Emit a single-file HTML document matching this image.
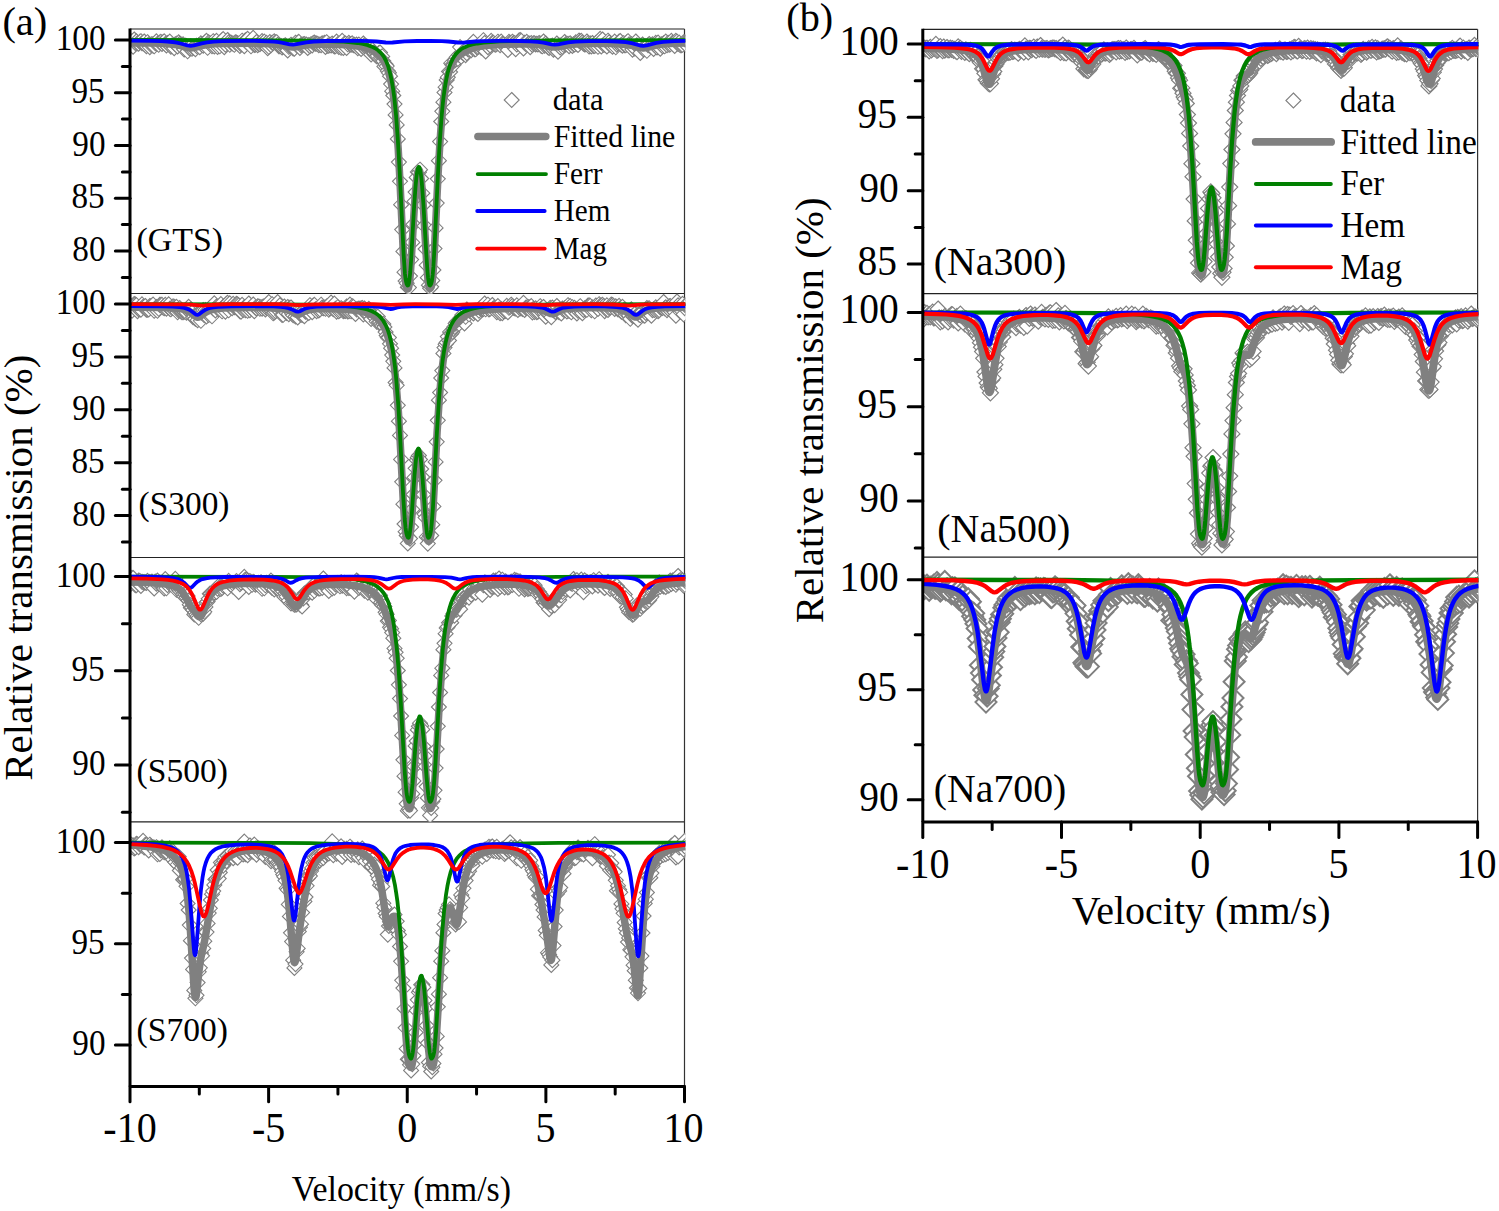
<!DOCTYPE html>
<html><head><meta charset="utf-8"><style>html,body{margin:0;padding:0;background:#fff;overflow:hidden}svg{display:block}text{font-family:"Liberation Serif",serif;fill:#000}</style></head><body>
<svg width="1499" height="1211" viewBox="0 0 1499 1211">
<rect width="1499" height="1211" fill="#fff"/>
<defs>
<marker id="ma1" markerUnits="userSpaceOnUse" markerWidth="19.2" markerHeight="19.2" viewBox="-9.6 -9.6 19.2 19.2" refX="0" refY="0"><path d="M0 -7.5L7.5 0 0 7.5-7.5 0Z" fill="#fff" stroke="#808080" stroke-width="1.1"/></marker>
<marker id="ma2" markerUnits="userSpaceOnUse" markerWidth="19.2" markerHeight="19.2" viewBox="-9.6 -9.6 19.2 19.2" refX="0" refY="0"><path d="M0 -7.5L7.5 0 0 7.5-7.5 0Z" fill="#fff" stroke="#808080" stroke-width="1.1"/></marker>
<marker id="ma3" markerUnits="userSpaceOnUse" markerWidth="19.2" markerHeight="19.2" viewBox="-9.6 -9.6 19.2 19.2" refX="0" refY="0"><path d="M0 -7.5L7.5 0 0 7.5-7.5 0Z" fill="#fff" stroke="#808080" stroke-width="1.1"/></marker>
<marker id="ma4" markerUnits="userSpaceOnUse" markerWidth="19.2" markerHeight="19.2" viewBox="-9.6 -9.6 19.2 19.2" refX="0" refY="0"><path d="M0 -7.5L7.5 0 0 7.5-7.5 0Z" fill="#fff" stroke="#808080" stroke-width="1.1"/></marker>
<marker id="mb1" markerUnits="userSpaceOnUse" markerWidth="20.4" markerHeight="20.4" viewBox="-10.2 -10.2 20.4 20.4" refX="0" refY="0"><path d="M0 -8L8 0 0 8-8 0Z" fill="#fff" stroke="#808080" stroke-width="1.2"/></marker>
<marker id="mb2" markerUnits="userSpaceOnUse" markerWidth="20.4" markerHeight="20.4" viewBox="-10.2 -10.2 20.4 20.4" refX="0" refY="0"><path d="M0 -8L8 0 0 8-8 0Z" fill="#fff" stroke="#808080" stroke-width="1.2"/></marker>
<marker id="mb3" markerUnits="userSpaceOnUse" markerWidth="27" markerHeight="27" viewBox="-13.5 -13.5 27 27" refX="0" refY="0"><path d="M0 -10.5L10.5 0 0 10.5-10.5 0Z" fill="#fff" stroke="#808080" stroke-width="2.0"/></marker>
<clipPath id="ca1"><rect x="130" y="29" width="555.3" height="264.5"/></clipPath>
<clipPath id="ca2"><rect x="130" y="293.5" width="555.3" height="264"/></clipPath>
<clipPath id="ca3"><rect x="130" y="557.5" width="555.3" height="264.3"/></clipPath>
<clipPath id="ca4"><rect x="130" y="821.8" width="555.3" height="264.6"/></clipPath>
<clipPath id="cb1"><rect x="922.8" y="29.3" width="555.6" height="264.3"/></clipPath>
<clipPath id="cb2"><rect x="922.8" y="293.6" width="555.6" height="263.6"/></clipPath>
<clipPath id="cb3"><rect x="922.8" y="557.2" width="555.6" height="264.8"/></clipPath>
</defs>
<line x1="130" y1="29" x2="684.5" y2="29" stroke="#222" stroke-width="1.2" stroke-linecap="butt"/>
<line x1="130" y1="293.5" x2="684.5" y2="293.5" stroke="#222" stroke-width="1.2" stroke-linecap="butt"/>
<line x1="130" y1="557.5" x2="684.5" y2="557.5" stroke="#222" stroke-width="1.2" stroke-linecap="butt"/>
<line x1="130" y1="821.8" x2="684.5" y2="821.8" stroke="#222" stroke-width="1.2" stroke-linecap="butt"/>
<line x1="684.5" y1="29" x2="684.5" y2="1086.4" stroke="#333" stroke-width="1.2" stroke-linecap="butt"/>
<line x1="922.8" y1="29.3" x2="1477.6" y2="29.3" stroke="#222" stroke-width="1.2" stroke-linecap="butt"/>
<line x1="922.8" y1="293.6" x2="1477.6" y2="293.6" stroke="#222" stroke-width="1.2" stroke-linecap="butt"/>
<line x1="922.8" y1="557.2" x2="1477.6" y2="557.2" stroke="#222" stroke-width="1.2" stroke-linecap="butt"/>
<line x1="1477.6" y1="29.3" x2="1477.6" y2="822" stroke="#333" stroke-width="1.2" stroke-linecap="butt"/>
<g clip-path="url(#ca1)">
<polyline fill="none" stroke="none" marker-start="url(#ma1)" marker-mid="url(#ma1)" marker-end="url(#ma1)" points="123.1,42.7 124.2,39.9 125.3,40.2 126.4,43.9 127.5,43.4 128.6,43.9 129.7,41.6 130.9,42.9 132,41.2 133.1,46.7 134.2,39.5 135.3,43 136.4,41.4 137.5,43.2 138.6,43.7 139.8,41.9 140.9,41.2 142,43.3 143.1,43.2 144.2,41.5 145.3,44.8 146.4,46.2 147.5,42.2 148.7,44.4 149.8,47.1 150.9,44.8 152,44.1 153.1,45.6 154.2,46.3 155.3,43.1 156.4,41.3 157.5,43.7 158.7,44.8 159.8,42.5 160.9,41.8 162,44 163.1,42.3 164.2,41.3 165.3,44 166.4,45.4 167.6,43 168.7,43.3 169.8,41.6 170.9,46.7 172,45.5 173.1,46 174.2,48.1 175.3,44.3 176.5,43.7 177.6,46.5 178.7,42.3 179.8,43.7 180.9,44.4 182,45.2 183.1,44.4 184.2,49.5 185.4,45.7 186.5,46.1 187.6,51.3 188.7,47.1 189.8,48.5 190.9,46.3 192,48.8 193.1,47.8 194.3,46.8 195.4,49.1 196.5,45.7 197.6,46.8 198.7,45.3 199.8,47.1 200.9,43.4 202,44.2 203.2,45.6 204.3,43.6 205.4,42.1 206.5,40.8 207.6,47.8 208.7,42.4 209.8,43.2 210.9,44.3 212,46.1 213.2,41.2 214.3,46.5 215.4,42.5 216.5,40.9 217.6,47 218.7,44.2 219.8,46.3 220.9,43 222.1,40.2 223.2,39.1 224.3,47.1 225.4,44.6 226.5,41.8 227.6,40 228.7,42.4 229.8,44.8 231,42.6 232.1,43.3 233.2,43.7 234.3,44.8 235.4,42.4 236.5,42.6 237.6,43.4 238.7,43.7 239.9,45.9 241,44.2 242.1,40.7 243.2,43.6 244.3,46.2 245.4,40.4 246.5,42.1 247.6,38.8 248.8,43.1 249.9,44.2 251,46.3 252.1,40.5 253.2,37.9 254.3,45 255.4,44.7 256.5,42.1 257.7,45.1 258.8,43.9 259.9,44.1 261,43 262.1,41.1 263.2,43.4 264.3,41.6 265.4,44.4 266.5,42.9 267.7,48.2 268.8,46.8 269.9,42.1 271,45.1 272.1,42.7 273.2,42.9 274.3,41.3 275.4,42.5 276.6,42.2 277.7,44.7 278.8,46.1 279.9,46.3 281,46 282.1,47.5 283.2,46.5 284.3,45.8 285.5,45.3 286.6,46.8 287.7,50.4 288.8,46.8 289.9,46.3 291,44.7 292.1,45.9 293.2,48.5 294.4,48.6 295.5,42.7 296.6,45.2 297.7,42.7 298.8,41.9 299.9,47.9 301,45.1 302.1,44.7 303.3,44.3 304.4,44.1 305.5,44.7 306.6,44.6 307.7,48 308.8,45 309.9,46.2 311,44.2 312.2,45.4 313.3,43 314.4,42.6 315.5,43.6 316.6,43.5 317.7,44 318.8,45.1 319.9,44.5 321.1,45.2 322.2,43.3 323.3,44.1 324.4,42.9 325.5,46.9 326.6,42.2 327.7,45.7 328.8,45.7 329.9,44.6 331.1,45.4 332.2,43.6 333.3,45.4 334.4,46.5 335.5,46.1 336.6,41.6 337.7,44.3 338.8,46.9 340,44.4 341.1,47.8 342.2,40.8 343.3,47.9 344.4,43.7 345.5,43.6 346.6,47.9 347.7,44.3 348.9,42.9 350,44.1 351.1,44.7 352.2,43.4 353.3,45.1 354.4,44.9 355.5,46 356.6,44.6 357.8,48.1 358.9,44.6 360,47.5 361.1,48.9 362.2,46.1 363.3,43.5 364.4,45.4 365.5,48.8 366.7,46.5 367.8,49.3 368.9,49 370,49 371.1,54.5 372.2,49.8 373.3,52.9 374.4,52.9 375.6,55.2 376.7,56.1 377.8,55.8 378.9,53.1 380,52.5 381.1,57.3 382.2,56.4 383.3,61 384.4,66.4 385.6,64.2 386.7,66.1 387.8,70.9 388.9,72.8 390,76.2 391.1,84.1 392.2,91.2 393.3,95.5 394.5,104.1 395.6,114.9 396.7,124.9 397.8,138.9 398.9,162.1 400,181.3 401.1,204.7 402.2,229.6 403.4,251.4 404.5,272.2 405.6,281 406.7,283.2 407.8,287.2 408.9,287.6 410,276.1 411.1,259.6 412.3,242.4 413.4,224.3 414.5,201.4 415.6,192.1 416.7,177.4 417.8,171.9 418.9,172.3 420,169.7 421.2,178.5 422.3,193.2 423.4,204.9 424.5,225.8 425.6,249 426.7,265.2 427.8,277.7 428.9,285.2 430.1,288.2 431.2,286.8 432.3,280.4 433.4,270 434.5,248.6 435.6,227.9 436.7,203.1 437.8,178.8 438.9,160.7 440.1,141.6 441.2,121.5 442.3,111.3 443.4,102.2 444.5,92.4 445.6,87.2 446.7,79.9 447.8,77.2 449,71.4 450.1,72 451.2,63.2 452.3,64.8 453.4,65.1 454.5,60.6 455.6,59.6 456.7,57.2 457.9,58.9 459,54.8 460.1,47.1 461.2,56.7 462.3,52.5 463.4,53.2 464.5,51.5 465.6,55.1 466.8,53.1 467.9,49.2 469,49.7 470.1,45.7 471.2,50.2 472.3,48 473.4,41.8 474.5,49.3 475.7,49.3 476.8,47.1 477.9,46.9 479,44.8 480.1,46.1 481.2,47.8 482.3,45.5 483.4,40.2 484.6,43 485.7,51.4 486.8,45.7 487.9,47.1 489,43.8 490.1,45.4 491.2,40.9 492.3,42.9 493.4,42.9 494.6,44.3 495.7,44.7 496.8,43.8 497.9,41.7 499,43.3 500.1,45.1 501.2,41.6 502.3,43.9 503.5,44.4 504.6,45.8 505.7,45.3 506.8,45.4 507.9,50 509,41.9 510.1,42.8 511.2,44.4 512.4,41.7 513.5,43 514.6,43.1 515.7,49.1 516.8,44.4 517.9,42.8 519,40.5 520.1,40 521.3,40.9 522.4,46.3 523.5,48.5 524.6,42.7 525.7,43.9 526.8,41.9 527.9,44.2 529,43.5 530.2,47.2 531.3,43.1 532.4,45 533.5,43.4 534.6,43.3 535.7,44.5 536.8,43.7 537.9,44.5 539.1,43 540.2,43.7 541.3,46 542.4,46.3 543.5,41.5 544.6,45.6 545.7,43.5 546.8,45 548,47.3 549.1,47.9 550.2,46.3 551.3,46.2 552.4,45.6 553.5,49.7 554.6,48.3 555.7,47.2 556.8,43.5 558,51.7 559.1,45.6 560.2,47.4 561.3,45.1 562.4,46.8 563.5,44.8 564.6,42 565.7,44.4 566.9,44 568,43.9 569.1,46.2 570.2,43.3 571.3,44.7 572.4,45.9 573.5,44.2 574.6,44.5 575.8,42.3 576.9,43.9 578,44.9 579.1,40.6 580.2,41.6 581.3,40.9 582.4,42.3 583.5,43.8 584.7,44.4 585.8,44.1 586.9,41.5 588,43.2 589.1,46.5 590.2,43.5 591.3,46.4 592.4,43 593.6,45.9 594.7,46 595.8,43.1 596.9,43.5 598,46.8 599.1,41.8 600.2,38.8 601.3,46.5 602.5,39.5 603.6,44.8 604.7,44.4 605.8,43.8 606.9,46.4 608,40.7 609.1,42.4 610.2,45 611.3,44.1 612.5,46.7 613.6,44.3 614.7,41.6 615.8,47.3 616.9,44.6 618,43.4 619.1,41.6 620.2,41 621.4,44.9 622.5,45.6 623.6,43.2 624.7,45.1 625.8,45.1 626.9,42.3 628,41.2 629.1,44.4 630.3,45.5 631.4,44.2 632.5,49.6 633.6,45.9 634.7,48.4 635.8,41.5 636.9,45.3 638,46.8 639.2,47.9 640.3,53 641.4,46.4 642.5,44.5 643.6,49.5 644.7,46.5 645.8,46.2 646.9,50.8 648.1,45.2 649.2,44 650.3,46.1 651.4,46.4 652.5,44.3 653.6,48.9 654.7,45.2 655.8,42.9 657,47.5 658.1,42.6 659.2,45.4 660.3,48.7 661.4,44.4 662.5,46.1 663.6,43.3 664.7,46.3 665.8,41.6 667,45.2 668.1,42.9 669.2,44.8 670.3,44.2 671.4,40.9 672.5,42.9 673.6,44.2 674.7,45.9 675.9,40.8 677,41.7 678.1,43.9 679.2,42.6 680.3,45.3 681.4,45.2 682.5,44.8 683.6,42.3 684.8,42.4 685.9,44.6 687,41.4 688.1,41.3 689.2,42.6 690.3,40.7 691.4,43.5"/>
<path d="M121.7 42.8L151.6 43.1 160.8 43.3 167.7 43.7 172.6 44.2 176.8 44.8 180.5 45.7 187.4 47.6 190.7 48 193.9 47.6 201.9 45.5 207.5 44.5 214.8 43.8 224.6 43.4 249.4 43.2 260.6 43.4 269.2 43.7 274.4 44.1 278.9 44.6 282.9 45.3 289.7 46.8 293.1 47.1 296.4 46.8 306.1 45 312.8 44.4 324.5 44.1 338.6 44.4 346.4 44.8 353.2 45.5 358.9 46.2 363.8 47.2 368 48.4 371.7 49.9 374.9 51.6 377.7 53.8 380.7 56.8 383.3 60.4 385.7 64.9 387.8 69.9 389.6 75.9 391.2 82.6 392.7 90.7 393.9 99.4 395.1 109.3 396.1 120.1 398.2 148.5 399.9 179.9 403.1 248.3 404.3 269.6 405 277.8 405.8 284.1 406.6 287.3 407.2 288.3 407.8 288.9 408.1 288.7 408.4 288.1 409.1 285.1 409.7 280.6 410.4 273.1 411.5 255.9 414.3 207.8 415.9 186.3 416.7 178.7 417.4 174 418 171.1 418.4 170.3 418.8 169.8 419.3 170.2 419.6 170.9 420.4 174.3 421.2 180.1 422.2 189.4 423.6 210.5 426.7 264 428.1 280.9 428.8 285.8 429.1 287.3 429.6 288.4 430 288.6 430.7 287.8 431.2 286.9 431.6 285.2 432.2 281.9 432.8 276.8 434 259.4 438 175.8 439.9 143.1 441.5 121.1 443.3 102.5 444.6 92.9 445.9 84.6 447.4 77.6 449.1 71.4 451 66.5 453 62.5 455.4 59 458.1 56.3 461.6 53.7 465.9 51.1 469.9 49.3 474.1 47.8 478.7 46.6 484.1 45.7 490.4 45 497.8 44.5 515.8 43.9 524.8 43.9 532.2 44.1 540.9 44.8 544.6 45.4 551.5 46.8 554.8 47 558.1 46.7 568.3 44.7 576.4 43.9 591.6 43.4 610.4 43.5 619.8 43.9 626.8 44.5 632.2 45.5 640 47.6 643.2 48 646.7 47.6 653.1 45.8 656.4 45 663.1 44 674.5 43.3 692.8 42.9" fill="none" stroke="#808080" stroke-width="7.5" stroke-linejoin="round"/>
<path d="M121.7 40L275.6 40.3 311 40.7 334.2 41.3 343.4 41.7 351.1 42.3 357.5 43 363 44 367.7 45.1 371.7 46.6 375.1 48.2 378.1 50.3 381.1 53.2 383.8 56.7 386.1 61 388.1 66.1 389.9 72.4 391.5 79.6 393 88.3 394.3 97.7 396.1 115.8 397.8 139 399.7 171.5 403.7 255.3 404.9 273.2 405.5 278.4 406.1 281.9 406.5 283.6 407 284.7 407.6 285.5 408.1 285.4 408.6 284.4 408.9 283.1 409.6 278.4 410.3 271.3 411.1 260.1 414 208.4 415.5 187.1 416.4 177.5 417.2 171.6 418 168 418.5 167 419 166.8 419.3 167.1 419.6 167.9 420.3 170.6 421 175.1 421.8 182.5 423.4 203.8 426.3 253.6 427.4 270.5 428.1 277.9 428.7 282.1 429.2 284.6 429.6 285.3 429.9 285.5 430.4 285.2 431.1 284.1 431.9 281 432.7 274.9 433.4 266.9 434.7 243.6 437.8 177.3 439.4 147.3 441.4 119.2 442.4 107.7 443.5 97.2 444.8 87.9 446.2 79.9 447.6 73.1 449.2 67.4 451.1 62.4 453.2 58 455.6 54.4 458.3 51.5 461.1 49.2 464.3 47.4 468.1 45.8 472.4 44.5 477.5 43.5 483.5 42.6 490.7 42 499.3 41.4 520.8 40.8 553.3 40.4 692.8 40.1" fill="none" stroke="#008000" stroke-width="3.8" stroke-linejoin="round"/>
<path d="M121.7 40.6L151.6 40.9 160.8 41.2 167.7 41.5 172.6 42 176.8 42.6 180.5 43.5 187.4 45.4 190.7 45.8 193.9 45.4 201.7 43.3 206.9 42.3 213.7 41.6 222.5 41.2 247.4 40.9 259.6 41 268.7 41.3 274.1 41.7 278.7 42.1 282.8 42.8 289.7 44.3 293.1 44.6 296.5 44.2 306.3 42.3 313.7 41.5 326.5 41 346.5 40.8 360.6 40.9 370.5 41.2 376.5 41.5 385.8 42.5 389.3 42.7 392.5 42.5 404.5 41.4 417.2 41 430.7 40.9 441.9 41.2 448.3 41.5 457.9 42.5 461.3 42.7 464.7 42.5 475.1 41.5 483.6 41.1 500.1 40.8 519.6 41 530.1 41.3 537.8 41.8 543.5 42.6 551.6 44.3 554.7 44.6 558.1 44.3 568.2 42.3 575.5 41.6 588.7 41.1 606.6 41.1 617.6 41.5 625.8 42.2 631.7 43.2 640.1 45.5 643.3 45.8 646.7 45.4 656.3 42.8 663.1 41.8 674.5 41.1 692.8 40.7" fill="none" stroke="#0000ff" stroke-width="3.8" stroke-linejoin="round"/>
</g>
<g clip-path="url(#ca2)">
<polyline fill="none" stroke="none" marker-start="url(#ma2)" marker-mid="url(#ma2)" marker-end="url(#ma2)" points="123.1,307.4 124.2,305.9 125.3,307.2 126.4,305.1 127.5,310.3 128.6,303.5 129.7,309.1 130.9,307.6 132,310.7 133.1,305.7 134.2,304 135.3,304.5 136.4,305.1 137.5,311.2 138.6,309.2 139.8,308.4 140.9,309.6 142,304.4 143.1,306.8 144.2,307.3 145.3,306 146.4,309.7 147.5,309.6 148.7,309.5 149.8,306 150.9,306.4 152,305.9 153.1,304.6 154.2,310.8 155.3,308.8 156.4,307 157.5,310.8 158.7,308.8 159.8,304.9 160.9,304.7 162,304.8 163.1,307.4 164.2,308.1 165.3,304.8 166.4,308.6 167.6,306.8 168.7,304.3 169.8,308.7 170.9,309.3 172,307.9 173.1,306.4 174.2,306.8 175.3,307.7 176.5,306.8 177.6,312.3 178.7,310.6 179.8,308.1 180.9,311.1 182,312.3 183.1,312.2 184.2,311.7 185.4,310.2 186.5,312.7 187.6,309.9 188.7,306.8 189.8,312.1 190.9,309.3 192,312.7 193.1,317.2 194.3,316.1 195.4,318.8 196.5,315 197.6,320.2 198.7,313.7 199.8,315 200.9,320.8 202,312.8 203.2,310 204.3,315.2 205.4,310 206.5,316.4 207.6,310.6 208.7,315 209.8,309.1 210.9,314.5 212,316.3 213.2,308.4 214.3,303.3 215.4,310.4 216.5,306.6 217.6,308.3 218.7,309.3 219.8,306.8 220.9,304.1 222.1,311.3 223.2,306.7 224.3,307.2 225.4,311.6 226.5,303.8 227.6,302.9 228.7,310.3 229.8,303.4 231,307.6 232.1,308.2 233.2,303.9 234.3,307.1 235.4,306.9 236.5,303.8 237.6,304.4 238.7,305.4 239.9,311.2 241,311.6 242.1,304.8 243.2,310 244.3,307.2 245.4,310.3 246.5,308.1 247.6,310.8 248.8,303.5 249.9,310.2 251,307.9 252.1,308.1 253.2,304.5 254.3,311.2 255.4,307.7 256.5,308.2 257.7,306.3 258.8,306.5 259.9,308.8 261,307.1 262.1,308.7 263.2,306.5 264.3,308 265.4,309.4 266.5,307.9 267.7,306.9 268.8,302.1 269.9,309.1 271,307.1 272.1,304.2 273.2,313.3 274.3,312.5 275.4,311.1 276.6,308.5 277.7,302.1 278.8,307.4 279.9,305.4 281,309.1 282.1,315 283.2,314.8 284.3,306.5 285.5,308.8 286.6,312.9 287.7,307 288.8,314.2 289.9,307.8 291,307.5 292.1,313.8 293.2,315.3 294.4,311 295.5,316.5 296.6,312 297.7,317.4 298.8,312.2 299.9,313.6 301,314.4 302.1,314.9 303.3,311.4 304.4,316.2 305.5,311.6 306.6,311.5 307.7,308.4 308.8,313 309.9,305.2 311,310.2 312.2,312.1 313.3,305.6 314.4,304.8 315.5,309.4 316.6,311.1 317.7,308.7 318.8,310.5 319.9,309.5 321.1,304.7 322.2,307.6 323.3,308.3 324.4,307.7 325.5,308.8 326.6,306.5 327.7,306.4 328.8,309.6 329.9,308.4 331.1,302.6 332.2,307.6 333.3,309.2 334.4,303.6 335.5,308.8 336.6,311.6 337.7,307.2 338.8,311.2 340,310.3 341.1,308.2 342.2,309.5 343.3,311.1 344.4,310.7 345.5,310.9 346.6,306.5 347.7,311.4 348.9,311.1 350,304.6 351.1,311.3 352.2,306.2 353.3,306.8 354.4,310.6 355.5,314 356.6,309.4 357.8,309 358.9,308.5 360,310.9 361.1,308.3 362.2,308 363.3,314.5 364.4,308.5 365.5,312 366.7,314.2 367.8,313.9 368.9,308.8 370,311.5 371.1,319 372.2,314.8 373.3,316 374.4,316.7 375.6,318.3 376.7,321.6 377.8,316.6 378.9,322.3 380,322 381.1,324 382.2,325.9 383.3,324 384.4,327 385.6,332.1 386.7,335.6 387.8,337.6 388.9,337.6 390,343.8 391.1,348.2 392.2,355.1 393.3,361.3 394.5,367.9 395.6,382.6 396.7,385.3 397.8,405.3 398.9,421.2 400,435.4 401.1,459.4 402.2,481.8 403.4,504.2 404.5,524 405.6,531.7 406.7,535.5 407.8,543.4 408.9,537.5 410,538.6 411.1,527.1 412.3,509.4 413.4,494.5 414.5,477.4 415.6,468.3 416.7,460 417.8,457.4 418.9,455.5 420,459.5 421.2,469 422.3,477 423.4,494.6 424.5,514.1 425.6,517.6 426.7,536.9 427.8,543.6 428.9,537.8 430.1,535.6 431.2,535.5 432.3,524.7 433.4,506.4 434.5,480.3 435.6,461.9 436.7,441.8 437.8,420.3 438.9,400.2 440.1,392.5 441.2,378 442.3,370.6 443.4,353.4 444.5,347.6 445.6,344.3 446.7,342.4 447.8,336.6 449,340.5 450.1,331.9 451.2,333.8 452.3,332 453.4,329 454.5,326.8 455.6,323.4 456.7,321.9 457.9,321.9 459,323.8 460.1,318.6 461.2,319.5 462.3,315.1 463.4,319.5 464.5,323.4 465.6,316.8 466.8,309.5 467.9,313.2 469,314.3 470.1,311.1 471.2,311.7 472.3,311.4 473.4,313.5 474.5,311.7 475.7,311.1 476.8,313 477.9,314 479,310.6 480.1,308.3 481.2,308.9 482.3,309.1 483.4,308.9 484.6,303.5 485.7,309.3 486.8,307.2 487.9,304.7 489,309.4 490.1,308.8 491.2,306.7 492.3,305 493.4,308.4 494.6,308.2 495.7,308.8 496.8,312.1 497.9,306.1 499,309.5 500.1,313.2 501.2,309.1 502.3,313.1 503.5,311.2 504.6,308.6 505.7,310.9 506.8,305.8 507.9,312.2 509,307.8 510.1,307 511.2,304.7 512.4,306 513.5,307.8 514.6,308.1 515.7,308.5 516.8,305.4 517.9,310 519,307 520.1,308.5 521.3,307.7 522.4,309 523.5,302.9 524.6,310 525.7,307.7 526.8,307.7 527.9,306.9 529,307.3 530.2,307.4 531.3,306.1 532.4,312.5 533.5,308.7 534.6,312 535.7,308.4 536.8,312.1 537.9,311.7 539.1,309.6 540.2,306.2 541.3,308.5 542.4,309.5 543.5,307 544.6,313.4 545.7,316.7 546.8,312.9 548,313.1 549.1,309.7 550.2,307.9 551.3,317.1 552.4,307.6 553.5,309.8 554.6,311.3 555.7,311.9 556.8,306 558,311.3 559.1,312.2 560.2,310.1 561.3,313.5 562.4,308.5 563.5,309.6 564.6,308.3 565.7,308 566.9,311.4 568,305.2 569.1,311 570.2,306.1 571.3,312.3 572.4,307.2 573.5,310.2 574.6,307.9 575.8,309.6 576.9,313.5 578,310.7 579.1,307.7 580.2,306.2 581.3,311.5 582.4,313.2 583.5,310 584.7,308.3 585.8,309.3 586.9,309.8 588,305.6 589.1,305.3 590.2,305.8 591.3,310.1 592.4,307.5 593.6,308.2 594.7,311.3 595.8,305.5 596.9,307.5 598,309 599.1,304.2 600.2,305.8 601.3,305.6 602.5,304.8 603.6,306 604.7,311.1 605.8,308.9 606.9,305.4 608,310 609.1,308 610.2,307.1 611.3,304.6 612.5,305 613.6,306.1 614.7,309 615.8,306.4 616.9,307.5 618,309.4 619.1,305.8 620.2,308.2 621.4,311.7 622.5,306.9 623.6,311.1 624.7,309.4 625.8,315.3 626.9,312 628,315 629.1,315.7 630.3,318.8 631.4,309.4 632.5,316 633.6,315.8 634.7,314.1 635.8,317.4 636.9,315.5 638,319.6 639.2,314.7 640.3,315.3 641.4,312 642.5,311.9 643.6,315.1 644.7,315.7 645.8,313 646.9,308.1 648.1,308.6 649.2,308.3 650.3,314.2 651.4,315.7 652.5,310.2 653.6,309.3 654.7,309.9 655.8,307.3 657,308.6 658.1,311.1 659.2,310.2 660.3,307.5 661.4,307.7 662.5,308 663.6,302 664.7,308.3 665.8,307.3 667,310.1 668.1,308.5 669.2,306.2 670.3,306.1 671.4,307.9 672.5,306.5 673.6,307.3 674.7,312.2 675.9,315.7 677,301.5 678.1,305.3 679.2,307.5 680.3,311.8 681.4,310.6 682.5,303.9 683.6,314.4 684.8,308.1 685.9,305.1 687,306.9 688.1,305.3 689.2,307.6 690.3,301.2 691.4,309.8"/>
<path d="M121.7 307.1L162.4 307.5 172.6 307.9 179.6 308.5 184.4 309.4 188.1 310.8 191 312.6 195.6 316.5 196.6 317 197.7 317.2 198.6 317.1 199.5 316.7 205.4 312.4 207.6 311.2 209.9 310.3 212.5 309.5 215.6 308.9 223.6 308.1 235.5 307.7 253 307.6 268.6 307.8 278.7 308.4 283.8 309 287.8 309.9 291 311.2 295.8 313.9 296.8 314.3 297.7 314.4 298.8 314.3 299.8 313.9 303.9 311.6 306.3 310.6 308.9 309.8 311.9 309.3 316.4 308.8 322.1 308.6 329.4 308.7 337.4 308.9 345.2 309.3 351.9 309.9 357.7 310.7 362.6 311.7 366.9 312.8 370.6 314.2 373.9 316 376.8 318 379.8 320.8 382.4 324.4 384.7 328.5 386.9 333.7 389 340.5 391 348.1 392.6 356 394.1 365.4 395.2 374.5 396.3 385.6 398.4 411.8 400.1 440.4 403.3 501.9 404.7 522.8 405.5 531.3 406.3 536.8 407.2 540 407.9 541.2 408.3 541.5 408.7 541.3 409 540.7 409.6 538.5 410.7 529.7 411.9 515.9 414.5 478.8 415.9 463.7 417.1 455 417.8 452.6 418.4 452 418.7 452.1 419.1 452.7 419.8 455.2 420.4 459.4 421.2 466.2 422.6 482.3 425.5 522.3 426.8 535.8 427.5 539.5 427.9 540.6 428.3 541.2 428.8 541.1 429.2 540.5 429.8 539.3 430.3 537.8 431 534.1 431.6 528.3 432.9 512 437.1 432.4 439.2 400.1 441.1 377.5 442.2 368.2 443.3 359.6 444.8 350.8 446.4 343.5 448.1 337.6 450 332.7 451.8 329.5 453.7 326.9 460.8 319.6 463.2 317.4 465.6 315.6 468.1 314.2 470.9 313 474.1 312 477.9 311.1 482.1 310.4 492.8 309.3 503 308.7 514.7 308.4 525.1 308.4 532.9 308.7 537.7 309.3 541.8 310.1 545.5 311.4 550.6 313.6 552.5 313.9 553.5 313.8 554.7 313.4 558.7 311.2 561 310.2 563.4 309.4 566.1 308.9 570.1 308.4 575.4 308 590.7 307.7 600.7 307.8 608.6 308.1 614.6 308.6 619.1 309.3 622.7 310.2 626 311.5 629.1 313.2 633.8 316.5 634.8 317 635.8 317.1 636.7 316.9 637.7 316.4 642.2 312.6 644.8 310.9 647.9 309.7 651.8 308.8 657.4 308.1 665.1 307.7 692.8 307.2" fill="none" stroke="#808080" stroke-width="7.5" stroke-linejoin="round"/>
<path d="M121.7 304.1L274.3 304.4 309.9 304.7 333.4 305.4 342.8 305.9 350.5 306.5 357 307.3 362.6 308.3 367.3 309.5 371.4 311 375 312.8 378.1 315 381 317.8 383.5 321.2 385.8 325.3 387.8 329.9 389.6 335.7 391.2 342.3 392.7 350.1 393.9 358.4 395.1 367.6 396.2 378.8 398.3 405.2 400 433.8 403.3 497.7 404.7 518.8 405.5 527.4 406.3 532.9 407.2 536.2 407.9 537.5 408.3 537.8 408.7 537.6 409 537 409.6 534.8 410.7 526.1 411.9 512.4 414.5 475.3 415.9 460.2 417.1 451.6 417.8 449.2 418.4 448.5 418.7 448.7 419.1 449.3 419.8 451.8 420.4 456 421.2 462.8 422.6 478.9 425.5 518.9 426.8 532.3 427.5 536 427.9 537.1 428.3 537.8 428.8 537.7 429.5 536.6 430.4 533.8 431.1 529.8 431.6 524.8 432.9 508.5 437 430.8 439 399.5 440.7 378.3 442.6 360.6 444 351.2 445.5 343.1 447.1 336.4 448.9 330.4 450.8 325.7 453.1 321.5 455.7 317.9 458.7 315 461.7 312.9 465.1 311.1 469.1 309.6 473.7 308.4 478.9 307.4 485.2 306.6 492.5 306 501.3 305.5 523.4 304.8 556.2 304.4 692.8 304.1" fill="none" stroke="#008000" stroke-width="3.8" stroke-linejoin="round"/>
<path d="M121.7 306L162.8 306.3 172.9 306.6 179.7 307.1 184.4 307.9 188.1 309.1 190.9 310.7 195.5 314.2 196.5 314.7 197.4 314.8 198.3 314.7 199.4 314.1 203.3 311.1 205.4 309.7 207.6 308.7 210 308 213.5 307.3 218 306.9 231.6 306.3 263.2 306.2 273.6 306.4 280.7 306.8 285.2 307.3 288.6 308.1 291.3 309.1 295.8 311.3 297.7 311.7 298.8 311.6 299.8 311.2 303.6 309.3 305.6 308.5 309.7 307.4 316.7 306.6 327.9 306.3 355.6 306.1 373.8 306.4 381.5 307.1 384.2 307.6 388.7 308.7 390.6 309 392.5 308.8 397.4 307.5 400.9 306.9 405.7 306.5 412.6 306.3 430.3 306.2 442.6 306.6 448.7 307.2 455.2 308.7 457.1 309 459.1 308.7 463.6 307.6 466.5 307 470.1 306.7 474.8 306.4 497.2 306.1 525.8 306.3 535.3 306.8 541.4 307.5 545.1 308.5 550.8 311.3 551.8 311.6 552.9 311.7 554.8 311.3 559 309.2 561.5 308.2 564.5 307.5 568.2 307 573.9 306.6 581.8 306.4 604.5 306.4 616.5 307 620.6 307.5 623.8 308.1 626.1 308.9 628 309.8 630.1 311.1 634 314.2 635 314.7 636 314.8 636.9 314.7 638 314.2 642.2 310.9 644.8 309.3 647.9 308.2 651.7 307.4 657.2 306.8 664.7 306.4 692.8 306.1" fill="none" stroke="#0000ff" stroke-width="3.8" stroke-linejoin="round"/>
<path d="M121.7 304L180.7 304.3 190.5 304.6 202.9 305.6 216.7 304.5 230.6 304.2 276.3 304.2 285.5 304.4 297.7 305.1 315.6 304.3 345.7 304.1 373.3 304.2 390.6 304.9 403.7 304.4 415.1 304.2 438.8 304.3 455.7 304.9 467.6 304.4 475.9 304.2 515 304.1 531.4 304.4 545.9 305.1 557.3 304.5 564.4 304.3 595.8 304.2 614 304.5 629.2 305.6 640.8 304.7 649.1 304.3 692.8 304" fill="none" stroke="#ff0000" stroke-width="3.8" stroke-linejoin="round"/>
</g>
<g clip-path="url(#ca3)">
<polyline fill="none" stroke="none" marker-start="url(#ma3)" marker-mid="url(#ma3)" marker-end="url(#ma3)" points="123.1,585.4 124.2,581.1 125.3,578.1 126.4,582 127.5,579.1 128.6,583.3 129.7,585.1 130.9,578.3 132,577.9 133.1,578 134.2,583.2 135.3,585.1 136.4,585.2 137.5,582.7 138.6,580.6 139.8,580.8 140.9,586 142,581.7 143.1,582.2 144.2,582.1 145.3,582.4 146.4,582.9 147.5,580.9 148.7,582.2 149.8,582 150.9,584.4 152,581.6 153.1,583.1 154.2,588.4 155.3,581.6 156.4,583.7 157.5,580.6 158.7,583.6 159.8,583.5 160.9,582.8 162,583.5 163.1,584.8 164.2,588.5 165.3,579.1 166.4,588.3 167.6,585.2 168.7,582.8 169.8,583.8 170.9,583.6 172,583.3 173.1,582.4 174.2,585.3 175.3,578.9 176.5,589.8 177.6,587.1 178.7,589.4 179.8,590.8 180.9,589.6 182,587.7 183.1,594.8 184.2,596.5 185.4,594.7 186.5,597.3 187.6,595.9 188.7,600.6 189.8,604.7 190.9,607.8 192,607.7 193.1,610 194.3,614.5 195.4,612.4 196.5,614.5 197.6,616.2 198.7,617.8 199.8,612.4 200.9,614.3 202,612 203.2,613.6 204.3,611.8 205.4,606.9 206.5,602.6 207.6,601.6 208.7,598.8 209.8,593.7 210.9,593.7 212,595.6 213.2,592.9 214.3,592.4 215.4,589.2 216.5,592 217.6,588.7 218.7,585.8 219.8,587 220.9,589 222.1,587.9 223.2,585.6 224.3,584.3 225.4,583.1 226.5,585.4 227.6,588.3 228.7,580.9 229.8,583.7 231,583.3 232.1,583.4 233.2,586.8 234.3,584.8 235.4,583.2 236.5,581.1 237.6,583.6 238.7,591.9 239.9,584.2 241,582.6 242.1,580.1 243.2,581.6 244.3,576.9 245.4,579.6 246.5,579.8 247.6,580.9 248.8,587 249.9,581.1 251,581.8 252.1,584.8 253.2,581.8 254.3,582.3 255.4,584.7 256.5,583.8 257.7,584.2 258.8,582.9 259.9,584.7 261,582.2 262.1,588.8 263.2,584.5 264.3,588.3 265.4,585.3 266.5,582.8 267.7,584.2 268.8,584.7 269.9,584.4 271,580.6 272.1,587.9 273.2,582.9 274.3,589.5 275.4,587.1 276.6,585.8 277.7,588.9 278.8,586.7 279.9,585.9 281,591.7 282.1,589.6 283.2,591.4 284.3,596.7 285.5,593.5 286.6,596.7 287.7,592.9 288.8,600.7 289.9,595.8 291,603.5 292.1,598.5 293.2,603.5 294.4,604.8 295.5,604.5 296.6,604.4 297.7,602.6 298.8,600.6 299.9,604.4 301,604.8 302.1,606.5 303.3,598.5 304.4,593.6 305.5,593 306.6,592.3 307.7,592.3 308.8,592 309.9,590.1 311,587.6 312.2,592.6 313.3,585.5 314.4,590.8 315.5,587 316.6,587.9 317.7,586.9 318.8,588.4 319.9,588.5 321.1,585.9 322.2,588 323.3,578.5 324.4,585.9 325.5,586.5 326.6,586.1 327.7,587.4 328.8,591 329.9,585.1 331.1,583.6 332.2,588.4 333.3,584.4 334.4,587.6 335.5,584.5 336.6,583.4 337.7,583.1 338.8,583.3 340,586.3 341.1,582.2 342.2,585.7 343.3,583.7 344.4,582.8 345.5,585.5 346.6,588.2 347.7,583.3 348.9,588 350,587.5 351.1,588.1 352.2,583.1 353.3,585.9 354.4,591.6 355.5,583.9 356.6,580.5 357.8,581.5 358.9,587.9 360,586.5 361.1,585.6 362.2,584.9 363.3,587.5 364.4,590.8 365.5,586.3 366.7,587.1 367.8,592.7 368.9,590.7 370,589.6 371.1,590.9 372.2,590.3 373.3,590.4 374.4,592 375.6,594.7 376.7,599.2 377.8,595.4 378.9,594.9 380,595.2 381.1,602.6 382.2,604.9 383.3,603.6 384.4,606.4 385.6,612.3 386.7,614.3 387.8,621.1 388.9,620.5 390,627.3 391.1,628.8 392.2,632.6 393.3,638.2 394.5,648.4 395.6,652.3 396.7,658.3 397.8,670.5 398.9,684.8 400,698.6 401.1,716 402.2,735.4 403.4,759.8 404.5,776.2 405.6,792.2 406.7,803.8 407.8,810.7 408.9,809 410,810.6 411.1,797.7 412.3,793.9 413.4,780.9 414.5,766.4 415.6,745.9 416.7,741 417.8,729.9 418.9,726.2 420,723.2 421.2,725.7 422.3,729.4 423.4,746.3 424.5,755.9 425.6,766.4 426.7,786.6 427.8,797.9 428.9,807.8 430.1,815.4 431.2,808 432.3,801.6 433.4,798.9 434.5,790.3 435.6,768.1 436.7,749 437.8,726.3 438.9,707 440.1,692.5 441.2,675.4 442.3,668.2 443.4,649.7 444.5,643.3 445.6,633.7 446.7,627.9 447.8,626.8 449,622.8 450.1,621.8 451.2,622.7 452.3,615.9 453.4,613.7 454.5,615.6 455.6,609.5 456.7,609.6 457.9,607 459,608.5 460.1,609.2 461.2,600.6 462.3,599.1 463.4,599.2 464.5,598.3 465.6,596.5 466.8,594.8 467.9,594.6 469,597.6 470.1,589.4 471.2,594.6 472.3,590.9 473.4,590.2 474.5,588.2 475.7,592.7 476.8,584.8 477.9,585.9 479,585.2 480.1,583.6 481.2,588.8 482.3,594.7 483.4,585.3 484.6,582.5 485.7,582.7 486.8,587 487.9,585.7 489,584.5 490.1,589.9 491.2,586.8 492.3,586.6 493.4,580.6 494.6,586.4 495.7,580.5 496.8,584.5 497.9,588.9 499,578.5 500.1,586.9 501.2,582.7 502.3,579.7 503.5,585.6 504.6,587.4 505.7,581.4 506.8,584 507.9,587.4 509,587 510.1,585.2 511.2,581.6 512.4,584.9 513.5,582.5 514.6,579.9 515.7,580.9 516.8,580.6 517.9,581.2 519,588.8 520.1,581.4 521.3,583.9 522.4,585.2 523.5,587.9 524.6,589.4 525.7,588.3 526.8,585.7 527.9,589 529,588.4 530.2,588.2 531.3,585.2 532.4,588.3 533.5,588.4 534.6,585.2 535.7,590.4 536.8,588.9 537.9,594.3 539.1,592 540.2,594 541.3,595.5 542.4,599.1 543.5,602.5 544.6,602.6 545.7,604.8 546.8,602.3 548,603.5 549.1,609.2 550.2,603.9 551.3,606 552.4,602.4 553.5,603.7 554.6,605.1 555.7,597.2 556.8,597.2 558,600 559.1,600.1 560.2,595 561.3,595.3 562.4,591.8 563.5,588.2 564.6,585 565.7,589.1 566.9,583.8 568,583.9 569.1,587.6 570.2,590.5 571.3,583.5 572.4,583.8 573.5,579 574.6,581.2 575.8,582.7 576.9,580.2 578,587.3 579.1,583.9 580.2,585 581.3,579.6 582.4,582.6 583.5,592.1 584.7,580.4 585.8,586.3 586.9,581.9 588,585.2 589.1,583.2 590.2,582.2 591.3,583.4 592.4,586.4 593.6,580.2 594.7,582.9 595.8,584.1 596.9,582.2 598,585.6 599.1,579.2 600.2,583.7 601.3,583.5 602.5,583.6 603.6,587.1 604.7,588 605.8,584.5 606.9,584.3 608,581.9 609.1,584.6 610.2,589 611.3,585 612.5,584.7 613.6,584.7 614.7,587 615.8,591.7 616.9,586.1 618,592 619.1,589.5 620.2,596.4 621.4,591.5 622.5,597.2 623.6,594.1 624.7,594.5 625.8,598.4 626.9,607.3 628,609.5 629.1,612.2 630.3,610.6 631.4,613.3 632.5,614.7 633.6,614.2 634.7,612.3 635.8,610.3 636.9,605.4 638,607.7 639.2,605 640.3,608.8 641.4,606.2 642.5,603.7 643.6,604.6 644.7,600.7 645.8,598.4 646.9,601.9 648.1,601.3 649.2,600 650.3,596.7 651.4,596.8 652.5,592.5 653.6,591.3 654.7,589.8 655.8,587.6 657,588.6 658.1,587.5 659.2,582.5 660.3,586.7 661.4,584 662.5,585.5 663.6,586.5 664.7,586.2 665.8,586.9 667,584.4 668.1,585.8 669.2,585.1 670.3,580.6 671.4,584 672.5,580.5 673.6,582.7 674.7,581 675.9,584.8 677,582.7 678.1,576 679.2,580.7 680.3,580.2 681.4,582.2 682.5,580.4 683.6,585.7 684.8,584.8 685.9,581.4 687,580.3 688.1,583.5 689.2,582.9 690.3,583.3 691.4,582.8"/>
<path d="M121.7 581.8L144.2 582.3 158.7 583.1 164.1 583.7 168.5 584.5 172.3 585.4 175.4 586.6 177.4 587.7 179.3 588.9 181 590.4 182.5 592.1 185 595.9 188.9 603.6 190.5 606.3 194.2 610.8 197.7 615.7 198.6 616.5 199.5 616.9 200.1 616.8 200.6 616.4 201.9 614.7 203.1 612 206.5 603.4 208.4 598.9 210.7 594.9 213.2 591.7 214.7 590.3 216.3 589.1 218.1 587.9 220.1 587 224.5 585.5 230.1 584.5 235.6 583.9 242.1 583.5 249.5 583.4 256.8 583.5 262.9 583.8 268 584.3 272.3 585 275.8 586 278.1 586.9 280 587.9 281.9 589.2 283.5 590.6 286.2 594.1 290.4 601.1 292.3 603.8 294.4 606.1 295.3 606.6 296.1 606.8 296.8 606.7 297.5 606.4 298.9 605 300.1 603.1 303.1 597.7 304.8 594.9 306.7 592.5 308.6 590.5 310.9 588.7 313.5 587.3 316.5 586.2 319.9 585.4 326.5 584.6 335 584.4 344.5 584.6 353.2 585.5 359.7 586.6 365 588.1 369.6 590 371.5 591.2 373.4 592.5 376.2 595.1 378.7 598.4 381 602.3 383.2 607 389.4 623.3 391.2 628.6 393 635.4 394.6 643.7 395.8 651.5 396.9 661.2 399.1 686.1 400.8 712.1 404.2 772.3 405.6 791.4 406.4 799.2 407.2 804.3 408.1 807.4 408.8 808.6 409.4 809 409.7 808.8 410 808.2 410.6 806.3 411.2 803 411.9 797.4 413 784.7 415.8 748.8 417.2 733.6 418.5 725.7 419.2 723.4 419.8 722.7 420.1 722.8 420.4 723.3 421.2 725.9 421.9 729.8 422.7 736.2 424.1 750.9 427.1 789.5 427.9 797.8 428.6 803.2 429.2 806.7 429.6 807.7 430 808.5 430.5 808.5 431 808 431.6 806.7 432.1 805.4 432.8 802 433.5 796.9 434.7 782.3 436 762.4 439.3 703.6 441.4 674.1 443.4 652.5 444.6 643.4 445.7 636.1 446.8 630.2 448.1 625.1 449.5 621 451 617.7 452.6 615.1 455.9 611 457.6 608.6 462.8 599.8 464.7 597 466.9 594.2 469.3 592 471.2 590.7 473.1 589.5 477.6 587.7 483.1 586.2 489.7 585.2 498.8 584.4 509 584.1 517.9 584.4 524.9 585.2 528.4 586 531.5 587.1 534.1 588.4 536.5 590.2 538.5 592.1 540.4 594.7 545.1 602.6 546.2 604.3 547.6 605.7 548.2 605.9 548.9 606 549.8 605.8 550.8 605.1 554.2 601.7 556.5 598.9 560.6 593 562.9 590.4 565.8 588.1 569.1 586.5 571.9 585.6 575.3 584.9 579.1 584.4 583.6 584 588.9 583.9 594.3 584 599.4 584.3 603.8 584.8 609 585.8 613.2 587.2 616.7 589.1 619.7 591.7 622.1 594.6 624.4 598.5 626.2 602.5 629.5 610.8 630.7 613.2 631.8 614.7 632.4 615.1 633 615.2 633.9 614.8 634.9 613.6 638.9 606.1 639.9 604.4 640.9 603.1 641.9 602.3 642.9 601.7 643.9 601.4 646.3 601 647.1 600.7 647.9 600.1 649.3 598.6 652.7 593.3 654.5 591 656.8 588.8 659.3 587.1 661.6 586 664.3 585.1 667.2 584.4 670.8 583.8 679.9 582.9 692.8 582.3" fill="none" stroke="#808080" stroke-width="7.5" stroke-linejoin="round"/>
<path d="M121.7 576.6L272.1 576.9 307.9 577.2 331.7 577.8 341.2 578.3 349.2 578.9 355.8 579.6 361.5 580.6 366.4 581.7 370.6 583.1 374.3 584.7 377.5 586.7 380.7 589.5 383.4 592.8 385.8 596.7 388 601.4 389.9 607.1 391.7 613.7 393.3 621.6 394.6 630.2 396.7 647.4 398.5 668.2 400.6 699 404.8 773.1 406.2 789.6 406.7 794.2 407.4 797.9 407.9 799.5 408.4 800.8 409.1 801.8 409.6 801.8 410 801.2 410.4 800.2 411.2 796.1 412.6 783.4 415.5 744.9 416.9 730.1 417.7 723.6 418.4 719.7 419.2 716.9 419.5 716.4 419.9 716.3 420.4 716.9 421.1 719 422.4 726.8 423.9 741.7 426.6 777.5 427.8 790.2 428.4 795.8 429 799.1 429.6 801.1 429.9 801.7 430.3 801.9 430.8 801.4 431.5 800.2 432.4 797.1 433.2 791.9 434 784.1 435.5 763 438.8 703.5 440.7 674.9 442.7 650.1 443.9 639.4 445 630.5 446.4 621.8 447.9 614.4 449.5 608 451.2 602.7 453.1 598.1 455.3 594.2 457.8 590.8 460.5 588 463.5 585.8 466.9 584 470.8 582.4 475.4 581.2 480.7 580.1 486.9 579.3 494.3 578.6 503 578 525 577.3 557.5 576.9 607.9 576.7 692.8 576.6" fill="none" stroke="#008000" stroke-width="3.8" stroke-linejoin="round"/>
<path d="M121.7 576.6L158.1 577 167.3 577.4 173.6 578.1 177.9 579.1 179.7 579.8 181.3 580.6 184.1 582.7 188.3 587 189.2 587.6 190.1 587.9 191 587.7 192.1 587 195.9 583 198 581.3 200.1 580.1 202.5 579.1 205.9 578.3 210.3 577.7 216.2 577.3 224.1 577 238.8 576.8 256 576.9 266.9 577.1 274.1 577.4 278.4 578 281.9 578.8 284.6 579.9 288.9 582.3 290.8 582.8 291.7 582.7 292.7 582.3 296.5 580.2 298.4 579.3 300.4 578.6 302.5 578.1 305.6 577.6 309.5 577.3 320.9 576.9 350 576.7 369.7 577 374.2 577.2 377.6 577.6 380.3 578.1 384.6 579.2 386.4 579.4 388.2 579.2 393.1 578 396.7 577.4 401.6 577 408.8 576.8 430.5 576.8 444.9 577.1 451.4 577.7 458 579.2 460 579.4 461.8 579.2 466.1 578.1 469 577.6 472.5 577.2 477.2 577 500.8 576.7 529.4 576.9 539 577.4 542.4 577.8 545.1 578.2 548.6 579.3 550.5 580.2 554.2 582.3 555.3 582.7 556.2 582.8 558 582.4 562.2 580 564.9 578.9 568.1 578.1 572.1 577.5 578.6 577.1 588.3 576.9 602.9 576.9 615.7 577.1 622.9 577.3 628.3 577.8 632.4 578.4 635.7 579.2 638 580.2 640 581.5 642 583.1 645.6 586.9 646.7 587.6 647.6 587.9 648.5 587.7 649.5 587 653.5 582.9 655.9 581 658.5 579.6 661.6 578.6 666.1 577.8 672.1 577.3 680.6 577 692.8 576.8" fill="none" stroke="#0000ff" stroke-width="3.8" stroke-linejoin="round"/>
<path d="M121.7 578.3L146.6 578.7 162.4 579.4 168.1 579.9 172.9 580.7 176.9 581.6 180.2 582.7 182.8 583.9 185.2 585.5 187.3 587.3 189.2 589.6 190.9 592.2 192.5 595.2 197.8 607.3 199 609.2 199.6 609.6 200.2 609.7 200.7 609.6 201.3 609.1 202.6 607.2 207.3 596.4 209.7 591.8 212.1 588.5 214.7 585.9 216.5 584.6 218.5 583.5 220.7 582.6 223.3 581.8 229.3 580.6 237.3 579.8 250.2 579.4 263.4 579.7 268.3 580 272.5 580.5 276 581.1 279 581.9 281.3 582.8 283.2 583.8 285.1 585 286.8 586.5 288.3 588.1 289.7 590 294.8 597.7 296 598.9 297.2 599.3 298.3 598.9 299.6 597.7 304.1 590.6 306.4 587.6 308.6 585.5 311 583.8 314.4 582.2 318.6 581 323.9 580.1 330.6 579.5 341.6 579.1 354.2 579.1 363.8 579.4 370.7 580.1 375 581 378.5 582.3 381.5 584.1 386.6 587.9 387.8 588.5 388.9 588.7 390.1 588.5 391.2 588 396.9 583.7 398.9 582.6 400.8 581.8 403.2 581 405.9 580.4 412.7 579.6 420.1 579.3 428.1 579.4 434.6 579.9 439.6 580.6 442.8 581.5 445.7 582.7 448.3 584.3 453.1 587.9 454.4 588.5 455.5 588.7 456.7 588.5 457.8 587.9 462.9 584.1 466.1 582.2 469.9 580.9 474.5 580 482.6 579.3 494.1 579 507.7 579.2 518.4 579.8 523.8 580.5 528.3 581.4 531.8 582.6 534.9 584.3 537.3 586.1 539.6 588.6 541.3 591 544.6 596.3 546 598.1 547 599.1 548.1 599.4 549.2 599 550.5 597.8 555.4 590.3 558.2 586.8 559.7 585.5 561.3 584.4 563 583.4 565 582.5 567.6 581.7 570.6 581 574.1 580.5 578.1 580.1 588.3 579.9 598.6 580.2 605.4 581 610.8 582.3 613.1 583.1 615.1 584 617 585.1 618.7 586.5 621.2 589.1 623.4 592.2 625.6 596.6 630.2 607.3 631.5 609.1 632 609.6 632.6 609.8 633.2 609.6 633.8 609.2 635 607.4 640 595.8 641.5 592.9 643 590.5 644.6 588.4 646.4 586.5 648.4 584.9 650.5 583.6 653.3 582.4 656.5 581.4 660.1 580.6 664.5 580 675.9 579.1 692.8 578.5" fill="none" stroke="#ff0000" stroke-width="3.8" stroke-linejoin="round"/>
</g>
<g clip-path="url(#ca4)">
<polyline fill="none" stroke="none" marker-start="url(#ma4)" marker-mid="url(#ma4)" marker-end="url(#ma4)" points="123.1,848.5 124.2,849.3 125.3,845 126.4,850.4 127.5,848 128.6,847 129.7,848.4 130.9,844.3 132,846.5 133.1,845.4 134.2,848.5 135.3,847.7 136.4,843.8 137.5,844.3 138.6,847.1 139.8,844.5 140.9,845.2 142,845.4 143.1,840.9 144.2,847.5 145.3,844.9 146.4,845.1 147.5,847.4 148.7,850.5 149.8,844.7 150.9,846.2 152,847.1 153.1,847.4 154.2,847.6 155.3,850.8 156.4,847.2 157.5,854.3 158.7,848.8 159.8,853.9 160.9,850.5 162,847.4 163.1,850.9 164.2,852.1 165.3,849.3 166.4,852.4 167.6,853.4 168.7,853.9 169.8,848.4 170.9,851.9 172,853.4 173.1,859.7 174.2,854.9 175.3,862.3 176.5,858 177.6,864.7 178.7,856.6 179.8,870.5 180.9,863.5 182,867.8 183.1,879.7 184.2,879 185.4,878.8 186.5,886.3 187.6,903.5 188.7,910 189.8,925.1 190.9,940.7 192,958.1 193.1,969.4 194.3,990.4 195.4,998.3 196.5,995.3 197.6,982.6 198.7,971.8 199.8,967.8 200.9,953 202,955.8 203.2,948.4 204.3,941.2 205.4,931.6 206.5,932.1 207.6,923.4 208.7,913.1 209.8,908.3 210.9,900 212,894.2 213.2,891.1 214.3,884.9 215.4,879.5 216.5,878.7 217.6,870 218.7,878.6 219.8,872.5 220.9,862.6 222.1,863.9 223.2,865.6 224.3,860.7 225.4,857.1 226.5,861.2 227.6,855.8 228.7,857.7 229.8,856.8 231,855.9 232.1,851.4 233.2,858.1 234.3,855.1 235.4,851.3 236.5,856.9 237.6,857.7 238.7,850.4 239.9,851.9 241,852.1 242.1,851 243.2,854.4 244.3,841.6 245.4,854.1 246.5,852.2 247.6,855.2 248.8,851.9 249.9,845.5 251,850.4 252.1,848.5 253.2,852 254.3,844.6 255.4,850 256.5,854.6 257.7,848.2 258.8,852 259.9,849 261,850.7 262.1,850.5 263.2,851.1 264.3,854.8 265.4,857 266.5,849.4 267.7,853.4 268.8,852.5 269.9,855.5 271,861.1 272.1,859.4 273.2,851.5 274.3,859.5 275.4,859.3 276.6,864 277.7,862.4 278.8,863.5 279.9,865 281,866.8 282.1,871.3 283.2,874.5 284.3,876.7 285.5,880.6 286.6,888.2 287.7,889.8 288.8,904.4 289.9,916.4 291,932.8 292.1,941.6 293.2,960.2 294.4,967.9 295.5,964.1 296.6,951.8 297.7,948.4 298.8,931.4 299.9,927.2 301,924.2 302.1,912.6 303.3,899.2 304.4,901.4 305.5,897 306.6,885.8 307.7,878.5 308.8,875.3 309.9,876 311,871.1 312.2,867.9 313.3,862.8 314.4,857.5 315.5,863 316.6,856.9 317.7,860.8 318.8,856.6 319.9,860.5 321.1,859 322.2,854.4 323.3,857.9 324.4,851.5 325.5,855.5 326.6,853 327.7,853.1 328.8,853.5 329.9,851.7 331.1,848.3 332.2,841.4 333.3,855.1 334.4,850.1 335.5,851.4 336.6,853.7 337.7,849.7 338.8,853.4 340,850.7 341.1,846.3 342.2,856.9 343.3,849.5 344.4,848.9 345.5,853.4 346.6,848.7 347.7,849.3 348.9,851.7 350,846.7 351.1,855 352.2,848.8 353.3,851.8 354.4,854.7 355.5,852.1 356.6,852.9 357.8,849.4 358.9,857.2 360,853.4 361.1,854.6 362.2,848.5 363.3,857.8 364.4,851.3 365.5,861.1 366.7,855 367.8,857.4 368.9,856.7 370,861.3 371.1,866.6 372.2,866.7 373.3,859.1 374.4,864.6 375.6,870.3 376.7,867.2 377.8,875.6 378.9,879.2 380,885.2 381.1,882.7 382.2,886.4 383.3,903.2 384.4,907.4 385.6,913.5 386.7,916.5 387.8,934.6 388.9,926 390,921.7 391.1,925.3 392.2,916.6 393.3,916 394.5,914.6 395.6,920.8 396.7,921.3 397.8,930.5 398.9,934.6 400,946.5 401.1,961.3 402.2,980.3 403.4,988.1 404.5,1008.7 405.6,1027.8 406.7,1048.7 407.8,1059.2 408.9,1059.3 410,1064.8 411.1,1070.4 412.3,1064.1 413.4,1055.7 414.5,1044.5 415.6,1032.4 416.7,1010.6 417.8,999.8 418.9,992.3 420,990.4 421.2,984.8 422.3,984.5 423.4,987.2 424.5,1000.4 425.6,1008 426.7,1025.5 427.8,1043 428.9,1062.5 430.1,1066.3 431.2,1071.5 432.3,1067.2 433.4,1063.4 434.5,1054.2 435.6,1048 436.7,1036.4 437.8,1006.8 438.9,994.2 440.1,977.7 441.2,961.2 442.3,950.7 443.4,932.7 444.5,924.4 445.6,913.5 446.7,910 447.8,907.4 449,904.4 450.1,909.2 451.2,910.8 452.3,912 453.4,919.6 454.5,920.2 455.6,924.5 456.7,922.5 457.9,922 459,921.9 460.1,907.6 461.2,894.9 462.3,898.1 463.4,888.3 464.5,880.6 465.6,880.6 466.8,874.4 467.9,869.4 469,871.2 470.1,863.8 471.2,861.5 472.3,865.4 473.4,859.8 474.5,855.1 475.7,858.1 476.8,855.2 477.9,853.7 479,855.8 480.1,851.2 481.2,852.6 482.3,856.6 483.4,851.2 484.6,849.7 485.7,849.5 486.8,853.9 487.9,850 489,846.8 490.1,850.3 491.2,847 492.3,846.5 493.4,850.7 494.6,848.3 495.7,851.3 496.8,846.8 497.9,850.5 499,851.9 500.1,850.2 501.2,850.4 502.3,848.9 503.5,848.7 504.6,854 505.7,852.4 506.8,849.2 507.9,849 509,850.4 510.1,842.3 511.2,847.4 512.4,851.5 513.5,849.2 514.6,847.5 515.7,851 516.8,858.2 517.9,852.7 519,853.3 520.1,847.1 521.3,860.6 522.4,850.3 523.5,856.6 524.6,854 525.7,859 526.8,858.6 527.9,856.9 529,861.8 530.2,860.3 531.3,866 532.4,869.4 533.5,871.4 534.6,875.3 535.7,877.5 536.8,876.6 537.9,889.2 539.1,895.8 540.2,895.9 541.3,896.2 542.4,904.5 543.5,910 544.6,916.9 545.7,930.4 546.8,935.3 548,952.7 549.1,954.5 550.2,956.9 551.3,964.9 552.4,960.2 553.5,945.6 554.6,926.6 555.7,910.1 556.8,894.1 558,888.7 559.1,890.9 560.2,887.6 561.3,874.9 562.4,868.1 563.5,873.7 564.6,867.6 565.7,865.2 566.9,861.8 568,861 569.1,857.4 570.2,854.5 571.3,856.8 572.4,853.8 573.5,849 574.6,858.2 575.8,857.7 576.9,852.2 578,847.5 579.1,852.6 580.2,849.4 581.3,853.7 582.4,849.5 583.5,854.4 584.7,850.1 585.8,851 586.9,850.9 588,847.8 589.1,848.8 590.2,854.3 591.3,849.6 592.4,858.2 593.6,849.7 594.7,844.2 595.8,851.7 596.9,852.1 598,854 599.1,852 600.2,856.7 601.3,853.6 602.5,857.4 603.6,858.6 604.7,857.7 605.8,859.3 606.9,865.9 608,854.8 609.1,862.6 610.2,870.2 611.3,863.1 612.5,868.9 613.6,870.6 614.7,871.8 615.8,880.3 616.9,890.7 618,885.7 619.1,889.4 620.2,892.3 621.4,903.9 622.5,908.8 623.6,913.3 624.7,922.4 625.8,928.7 626.9,932.9 628,942 629.1,937.9 630.3,949.7 631.4,950.6 632.5,956.8 633.6,965.2 634.7,970.7 635.8,980.2 636.9,988 638,993.1 639.2,988.5 640.3,968 641.4,956.1 642.5,933 643.6,916 644.7,903.4 645.8,899.2 646.9,892.5 648.1,876.1 649.2,878.1 650.3,877.7 651.4,873.1 652.5,866.2 653.6,860 654.7,861.9 655.8,856.2 657,857.9 658.1,855.8 659.2,853 660.3,856.4 661.4,853.3 662.5,854.7 663.6,854.8 664.7,849.9 665.8,854.1 667,850.7 668.1,853 669.2,850.3 670.3,851.3 671.4,845.7 672.5,848.6 673.6,848.3 674.7,843 675.9,857.4 677,851.4 678.1,856.5 679.2,847.4 680.3,845.7 681.4,844.9 682.5,845.9 683.6,849.5 684.8,840.8 685.9,845.4 687,847.1 688.1,849.7 689.2,844.6 690.3,847.4 691.4,847.2"/>
<path d="M121.7 844.5L135.8 845.3 146.9 846.4 155.7 847.9 159.4 848.8 162.7 849.8 165.7 851 168.4 852.4 170.8 853.9 173 855.6 174.9 857.5 176.8 859.7 178.4 862.1 179.8 864.9 181.1 867.8 182.3 871.2 184.4 878.7 186.1 887.6 187.7 899 189 911.2 190.2 926.9 194 987.8 194.8 995.2 195.1 996.8 195.5 997.4 195.7 997.3 196.1 996.3 196.6 993 199.1 969.9 200.6 959.2 201.7 953.8 204.2 942.9 205.5 936.1 211.3 901.7 212.9 893.2 214.3 886.4 215.7 881.1 217.2 876.2 218.8 871.8 220.4 868.2 222.2 864.8 224.2 861.9 226.3 859.3 228.6 857.2 231.2 855.3 234.1 853.8 237.3 852.5 240.8 851.5 244.8 850.7 249.1 850.3 253.4 850.2 257.6 850.5 261.3 851 264.7 851.8 267.7 852.8 270.4 854 272.8 855.6 275 857.4 276.9 859.5 278.8 862.1 281.2 866.7 283.2 872.4 285.1 879.5 286.7 888.1 288 898 289.3 909.8 293.1 955 293.9 960.7 294.2 962 294.4 962.5 294.7 962.6 295 962.2 295.3 961.2 296 957.6 299.2 932.1 301.2 918.1 303.7 902.3 306.1 889.6 308.3 880.4 310.5 872.9 313.1 866.8 314.4 864.2 315.8 862 317.6 859.6 319.7 857.5 322 855.6 324.5 854.1 327.2 852.8 330.3 851.7 333.7 850.9 337.5 850.4 341.8 850.1 346.3 850.1 350.8 850.5 354.9 851.1 358.5 852 361.8 853.2 364.8 854.7 367.4 856.5 369.3 858.1 371 859.9 372.6 862 373.9 864.1 375.2 866.5 376.5 869.3 378.6 875.7 380.2 882 381.7 889.5 383.2 898.9 386.1 919.6 386.9 923.9 387.5 926.1 387.9 926.6 388.2 926.8 388.6 926.6 388.9 926.2 389.6 924.7 391.9 918.4 392.8 916.8 393.6 916.3 394.1 916.3 394.5 916.7 395.3 918 396.2 920.6 397 923.9 398.1 929.8 399.1 937.7 401 958.4 402.6 981.2 405.8 1034 407.3 1053.2 408.1 1060 408.9 1064.3 409.7 1066.4 410.4 1067.3 410.8 1067.5 411.2 1067.3 411.5 1066.7 412.1 1064.7 412.7 1061.4 413.4 1055.9 414.5 1043.2 417.2 1007.7 418.6 993.8 419.3 988.8 420 985.2 420.7 983.1 421.2 982.5 421.6 982.7 421.9 983.3 422.7 986 423.4 990 424.2 996.3 425.6 1011.1 428.4 1047.8 429.8 1060.7 430.5 1064.5 430.8 1065.7 431.3 1066.6 431.8 1066.8 432.2 1066.5 432.9 1065.5 433.4 1064.4 434 1061.4 434.7 1056.7 436 1043 440.2 974.2 442.2 947.6 444.1 928.6 445 922 446 916.3 447.1 912.2 448.1 909.5 449.1 908.1 449.7 907.9 450.3 908.1 451.3 909.4 452.3 911.7 455.1 921.5 455.7 923.5 456.4 924.5 456.8 924.4 457.1 924 457.8 922 458.6 917.9 461.5 897.5 462.9 888.2 464.3 881.4 465.9 875.1 468.1 868.8 470.5 863.9 471.9 861.7 473.3 859.8 474.9 858.1 476.8 856.5 479.4 854.7 482.3 853.2 485.5 852.1 489.1 851.1 493.2 850.5 497.7 850.1 502.1 850 506.6 850.3 510.4 850.8 513.9 851.6 517 852.6 519.8 853.8 522.5 855.4 524.8 857.2 526.8 859.2 528.8 861.6 531.5 866.2 534 872 536.3 879.1 538.5 887.7 541.2 901.3 544.6 921.2 546.5 933.1 549.7 956.5 550.3 959.5 550.7 960.3 550.9 960.4 551.4 959.7 551.7 958.3 552.5 952.5 556.1 910.4 557.2 899.4 558.5 889.9 559.8 881.9 561.4 875 563.3 869.3 565.3 864.6 566.8 862.1 568.4 860 570.1 858.2 572.1 856.6 574.2 855.3 576.6 854.2 579.3 853.4 582 852.8 585.2 852.5 588.4 852.5 591.6 852.8 594.7 853.4 597.5 854.3 600.2 855.5 602.6 856.9 604.8 858.7 607 860.8 609 863.2 610.8 866 612.4 869 614 872.7 615.5 876.8 616.8 881.3 618.2 886.6 621.1 900.3 625.4 926 627 934.6 628.6 941.5 631.5 951.5 632.6 956.9 634.1 967.3 636.6 990.9 637.2 994.4 637.5 995.5 637.7 995.7 638 995.5 638.2 994.8 638.5 993 639.3 985 642.8 929.3 643.9 914.3 645.1 902.4 646.3 892.2 647.8 883.1 649.5 875.5 651.5 869.2 653.9 863.7 655.2 861.4 656.8 859.1 658.5 857.1 660.4 855.4 662.4 853.8 664.6 852.4 667 851.2 669.6 850.1 675.8 848.3 683.4 846.8 692.8 845.7" fill="none" stroke="#808080" stroke-width="7.5" stroke-linejoin="round"/>
<path d="M121.7 842.6L275 842.8 310.9 843.2 334.6 843.8 344.1 844.2 352 844.8 358.6 845.6 364.2 846.5 369 847.6 373.3 849 376.9 850.7 380 852.7 383 855.3 385.6 858.4 387.9 862.2 389.9 866.6 391.8 871.9 393.4 877.8 394.9 884.8 396.2 893 397.4 901.3 398.5 911.5 400.7 936.7 402.4 962.6 405.8 1022.4 407.2 1041.3 408 1049 408.8 1054.1 409.7 1057.1 410.4 1058.3 411 1058.7 411.3 1058.5 411.6 1057.8 412.2 1055.8 412.8 1052.5 413.5 1046.8 414.5 1035.5 417.2 1000.5 418.6 986.7 419.3 981.8 420 978.2 420.7 976.2 421.2 975.6 421.6 975.8 421.9 976.3 422.7 979.1 423.4 983 424.2 989.4 425.6 1004.1 428.4 1040.4 429.8 1053 430.6 1057 431 1058 431.4 1058.6 431.9 1058.6 432.4 1057.8 433 1056.7 433.5 1055.2 434.2 1051.8 434.7 1047.4 436.1 1031.6 440.3 959.5 442.3 931.1 444.1 910.7 446 894.8 447.4 886.2 448.9 878.9 450.5 872.7 452.3 867.3 454.4 862.7 456.7 858.8 459.3 855.6 462.3 852.9 465.2 850.9 468.7 849.3 472.7 847.8 477.2 846.7 482.5 845.8 488.8 845 496.1 844.4 504.9 843.9 526.7 843.3 559.1 842.9 692.8 842.6" fill="none" stroke="#008000" stroke-width="3.8" stroke-linejoin="round"/>
<path d="M121.7 843.1L137.8 843.5 149.6 844 158.4 844.7 165.1 845.7 170.4 847.1 172.6 848 174.6 849 176.4 850.2 178 851.6 179.5 853.2 180.7 854.9 181.9 856.9 183 859.3 184.9 864.5 186.5 871.2 187.9 880 189.1 889.1 190.2 901 193.7 947.2 194.3 953.1 194.7 954.6 195 955.2 195.4 954.7 195.7 953.2 196.5 946.2 199.4 906.9 201 889.4 202.6 877.1 203.5 871.9 204.5 867.2 205.8 862.8 207.3 858.9 208.9 855.8 210.7 853.2 212.9 851.1 215.4 849.3 218.3 847.9 221.8 846.7 225 846 228.7 845.5 238 844.7 249.8 844.5 260.5 844.9 267.2 845.8 270.1 846.3 272.5 847 274.7 847.9 276.5 848.8 278.2 850 279.7 851.3 282 854.2 283.9 858 285.5 862.5 287 868.5 288.3 875.5 289.4 883.9 292.7 914.8 293.4 918.9 293.7 920.1 294.1 920.6 294.4 920.3 294.8 919.3 295.6 914.6 298.3 888.6 299.8 876.9 301.2 868.9 302.8 862.4 303.9 859 305.1 856.4 306.4 853.9 307.9 852 309.6 850.3 311.6 848.8 313.7 847.7 316.2 846.7 321.4 845.5 328.1 844.7 337.2 844.2 347.8 844 356.8 844.2 363.8 844.8 368.9 845.7 371 846.3 372.8 847 375.2 848.4 377.1 850.2 378.7 852.3 380.2 855.2 381.5 858.5 382.6 862.4 386.1 877.7 386.7 879.6 387.1 880.2 387.4 880.4 387.8 880.2 388.1 879.8 388.8 877.9 392.1 863 393.1 859.3 394.2 856.4 395.4 853.6 396.8 851.4 398.3 849.7 400.1 848.2 402.6 846.8 405.8 845.8 409.8 845 414.7 844.6 421.6 844.4 428.6 844.5 434.2 845 438.6 845.8 442.2 847 444.9 848.6 447.2 850.8 449.1 853.9 450.4 856.7 451.6 860.4 453 865.9 455.6 878.3 456.4 880.8 456.8 881.4 457.1 881.6 457.5 881.5 457.8 881 458.5 879 461.9 863.2 463.1 859.1 464.3 855.7 465.8 852.7 467.4 850.5 469.2 848.7 471.5 847.3 474.9 846 479.3 845 485 844.4 492.5 844.1 502.9 844.1 512.9 844.4 520.5 845 526.4 846 529.6 846.9 532.2 847.9 534.5 849.2 536.4 850.7 538.1 852.6 539.7 855 541.1 857.7 542.2 860.7 544.1 867.5 545.7 876.3 547.1 887.8 550 914.9 550.7 919 551 920.2 551.4 920.7 551.7 920.4 552.1 919.4 552.7 915.5 556.1 884.7 557.1 877 558.2 870.2 559.5 864.6 561 859.8 562.7 855.9 564.6 852.9 565.9 851.4 567.3 850.2 568.7 849.2 570.5 848.2 574.5 846.8 579.5 845.8 586.9 845.2 595.6 845.1 603.6 845.6 610.1 846.6 613.9 847.7 617 849 619.7 850.7 622 852.8 623.9 855.3 625.6 858.4 627.1 862.1 628.5 866.6 629.5 871.1 630.6 876.8 632.3 889.9 633.9 907.5 636.7 947.1 637.5 954.2 637.9 955.8 638.2 956.3 638.5 955.7 638.9 954.1 639.6 948.2 642.9 903 643.9 891.8 644.9 882.9 646.2 874.5 647.6 867.8 649.1 862.6 650.9 858 652 855.8 653.2 854.1 654.4 852.5 655.8 851.2 657.4 849.9 659.1 848.8 663.1 847.1 668 845.8 674.3 844.8 682.3 844.1 692.8 843.6" fill="none" stroke="#0000ff" stroke-width="3.8" stroke-linejoin="round"/>
<path d="M121.7 843.8L135.4 844.3 146.2 845 155.2 845.8 162.4 846.9 168.4 848.3 173.4 850 177.7 852.2 181.3 854.9 184.2 857.8 186.8 861.5 189.1 865.7 191.3 870.9 193.2 876.8 195 883.6 199.8 905.5 201.2 911.1 202 913.6 202.7 915.3 203.4 916.3 204.1 916.6 204.6 916.3 205.3 915.4 206.6 912.1 208.2 905.8 212.2 887.4 214.1 879.7 216.7 871.4 218.2 867.7 219.7 864.6 221.4 861.7 223.4 859 225.4 856.7 227.6 854.8 230.1 853.1 232.8 851.7 235.9 850.5 239.2 849.5 244.5 848.6 250.3 848 256.5 847.9 262.4 848.3 267.5 849.1 271.8 850.2 275.6 851.8 278.8 853.7 281.1 855.7 283.2 858 285.2 860.7 287 863.9 288.7 867.6 290.4 872 294.9 885.6 296.3 889.4 297.7 892.2 298.4 892.9 299.1 893.1 299.7 892.9 300.4 892.3 301.7 889.9 303.1 886.3 306.8 874.9 308.9 868.9 311.3 863.5 314 859.2 315.6 857.1 317.2 855.4 319 853.8 320.9 852.4 323.1 851.2 325.4 850.1 327.9 849.3 330.8 848.5 335.2 847.6 340.1 847.1 345.5 846.7 351.1 846.7 356.2 846.9 360.8 847.5 364.8 848.2 368.2 849.2 370.5 850.2 372.7 851.4 374.6 852.8 376.5 854.4 378.2 856.2 379.9 858.5 385.8 867.6 387.3 869 388 869.4 388.7 869.5 389.4 869.4 390.1 869 391.5 867.6 397.1 859 400 855.4 402.9 852.8 406.1 850.8 408.3 849.7 411 848.9 413.8 848.3 416.9 847.8 420.3 847.6 423.9 847.6 427.3 847.8 430.5 848.2 434 849 437.2 850.1 440 851.5 442.5 853.3 444.7 855.3 446.7 857.8 448.6 860.5 452 865.9 453.3 867.8 454.7 869.1 455.4 869.4 456.1 869.5 456.8 869.4 457.5 869 458.9 867.6 464.4 859.1 467.2 855.5 469.8 853 472.7 851 474.7 850 476.9 849.1 481.9 847.8 488.2 847 495.5 846.7 501 846.9 506.2 847.3 510.9 848 515.2 848.9 518.7 850 521.9 851.4 524.6 853.1 527.2 855.1 529.1 857.2 530.8 859.4 532.4 861.9 534 865 535.6 868.6 537.1 872.5 541.3 885.6 542.7 889.5 544.2 892.3 544.9 893.1 545.5 893.3 546.2 893.1 546.9 892.5 548.4 889.8 549.8 886.1 554.3 872.1 555.9 868.1 557.7 864.4 559.5 861.2 561.4 858.5 563.5 856.3 565.8 854.4 569.2 852.4 573.1 850.9 577.5 849.9 582.6 849.5 587.9 849.6 593.1 850.3 597.6 851.5 601.6 853.2 603.7 854.4 605.6 855.8 607.5 857.5 609.1 859.3 610.6 861.2 612 863.6 614.7 868.9 617 875.1 619.1 882.6 621 890.3 624.4 906.2 625.8 911.7 626.6 914.1 627.2 915.6 627.9 916.5 628.6 916.7 629.3 916.3 630 915.1 631.4 911.2 632.7 905.5 637.3 884.6 638.9 878.4 640.6 872.9 642.4 868.1 644.4 864 646.5 860.3 648.9 857.2 651.9 854.4 655.3 852 659.3 850 663.9 848.4 669.4 847.1 675.8 846.1 683.4 845.2 692.8 844.6" fill="none" stroke="#ff0000" stroke-width="3.8" stroke-linejoin="round"/>
</g>
<g clip-path="url(#cb1)">
<polyline fill="none" stroke="none" marker-start="url(#mb1)" marker-mid="url(#mb1)" marker-end="url(#mb1)" points="915.9,47.9 917,47.9 918.1,49.4 919.2,46.4 920.3,49.7 921.4,49.9 922.5,47.8 923.7,48.1 924.8,48.2 925.9,48.9 927,48.2 928.1,49.1 929.2,50.8 930.3,47.3 931.4,49.9 932.6,48.7 933.7,47.3 934.8,48.4 935.9,44.4 937,50.5 938.1,49.6 939.2,48.4 940.3,46.6 941.5,49 942.6,50.7 943.7,47 944.8,50.1 945.9,49 947,47.5 948.1,49.8 949.3,49.6 950.4,48.2 951.5,49.3 952.6,48.7 953.7,50.5 954.8,49.4 955.9,50.9 957,51.7 958.2,46.9 959.3,49 960.4,48.4 961.5,51.3 962.6,50.1 963.7,50.5 964.8,52.5 965.9,49.8 967.1,51.9 968.2,51.5 969.3,53.7 970.4,50.4 971.5,51.2 972.6,52.2 973.7,54.8 974.8,54.9 976,53.2 977.1,56.5 978.2,56.9 979.3,58.6 980.4,62.4 981.5,60.8 982.6,68.8 983.7,69 984.9,73.4 986,79.8 987.1,80.7 988.2,82.9 989.3,83.9 990.4,83.6 991.5,78.7 992.7,74 993.8,71.5 994.9,65.9 996,64.1 997.1,61.6 998.2,58.6 999.3,59.8 1000.4,58.1 1001.6,55.4 1002.7,54.3 1003.8,52.1 1004.9,51.9 1006,52.7 1007.1,52.1 1008.2,52.4 1009.3,52.2 1010.5,52 1011.6,49.7 1012.7,51.5 1013.8,51.1 1014.9,50.2 1016,51 1017.1,50.4 1018.2,53.2 1019.4,49.3 1020.5,50.2 1021.6,49.4 1022.7,49 1023.8,52.2 1024.9,45.9 1026,49.1 1027.2,49 1028.3,51.9 1029.4,48.3 1030.5,48.5 1031.6,49.6 1032.7,48.7 1033.8,47.1 1034.9,49.5 1036.1,50.3 1037.2,47 1038.3,48.5 1039.4,49.2 1040.5,45.5 1041.6,48.7 1042.7,49.2 1043.8,48.5 1045,49.5 1046.1,48.6 1047.2,48.7 1048.3,49.9 1049.4,49.4 1050.5,48.6 1051.6,48.5 1052.7,48.2 1053.9,48 1055,48.8 1056.1,48.5 1057.2,49.9 1058.3,49.7 1059.4,47.9 1060.5,52.4 1061.6,49.1 1062.8,45.1 1063.9,52.6 1065,47.8 1066.1,52.8 1067.2,49.8 1068.3,48.2 1069.4,48.7 1070.6,52.5 1071.7,53.4 1072.8,54 1073.9,51.3 1075,53.5 1076.1,53.6 1077.2,54.1 1078.3,54.9 1079.5,56 1080.6,58.1 1081.7,62.5 1082.8,60.2 1083.9,68.8 1085,65.4 1086.1,70 1087.2,70.3 1088.4,70.5 1089.5,69 1090.6,66.7 1091.7,64.9 1092.8,64 1093.9,59.1 1095,59.5 1096.1,55.2 1097.3,56.2 1098.4,56 1099.5,53.5 1100.6,52.1 1101.7,54.2 1102.8,52.8 1103.9,49.9 1105.1,53.1 1106.2,52.7 1107.3,50.9 1108.4,52.8 1109.5,54.4 1110.6,53.1 1111.7,50 1112.8,49.5 1114,49.5 1115.1,49.7 1116.2,52 1117.3,49.2 1118.4,48.5 1119.5,51.2 1120.6,48.7 1121.7,50.6 1122.9,49.8 1124,49.6 1125.1,52.3 1126.2,48 1127.3,51.4 1128.4,50.3 1129.5,50.9 1130.6,49.6 1131.8,49.6 1132.9,50.3 1134,48.3 1135.1,50 1136.2,51.1 1137.3,54.8 1138.4,51.1 1139.5,51.2 1140.7,52.1 1141.8,52.2 1142.9,50.2 1144,49.6 1145.1,48.5 1146.2,49.8 1147.3,52.6 1148.5,51.4 1149.6,53.9 1150.7,51.1 1151.8,51.8 1152.9,53.5 1154,53 1155.1,53.5 1156.2,54.3 1157.4,51.8 1158.5,49.5 1159.6,53.3 1160.7,53.4 1161.8,55.2 1162.9,56.5 1164,53.3 1165.1,57.8 1166.3,57.4 1167.4,59 1168.5,58.9 1169.6,61 1170.7,61.3 1171.8,65.5 1172.9,65.5 1174,65.4 1175.2,71.2 1176.3,73.3 1177.4,73.3 1178.5,77.9 1179.6,80.2 1180.7,88.3 1181.8,87.9 1183,93.2 1184.1,97 1185.2,98.9 1186.3,103.5 1187.4,114.6 1188.5,123.1 1189.6,133.4 1190.7,146.1 1191.9,163.7 1193,176.7 1194.1,199.1 1195.2,220.9 1196.3,240.3 1197.4,252 1198.5,263 1199.6,272.9 1200.8,274.1 1201.9,272.7 1203,271.8 1204.1,261.6 1205.2,245.6 1206.3,233.8 1207.4,219.2 1208.5,208.4 1209.7,198.9 1210.8,191.9 1211.9,193.5 1213,197.8 1214.1,204.4 1215.2,212 1216.3,228.2 1217.4,244.1 1218.6,256.8 1219.7,267 1220.8,273.4 1221.9,277.3 1223,272.3 1224.1,268.4 1225.2,257.3 1226.4,246 1227.5,223.9 1228.6,205.7 1229.7,187.1 1230.8,163.6 1231.9,149.5 1233,133.8 1234.1,122.4 1235.3,110.5 1236.4,102.2 1237.5,95.4 1238.6,90.4 1239.7,89.4 1240.8,85.9 1241.9,80.2 1243,79.8 1244.2,76 1245.3,75.3 1246.4,76.7 1247.5,75.4 1248.6,74.6 1249.7,72.9 1250.8,70.3 1251.9,67 1253.1,64 1254.2,65.5 1255.3,63.2 1256.4,58.6 1257.5,58.3 1258.6,58.2 1259.7,61.1 1260.9,58.3 1262,55.9 1263.1,56.4 1264.2,52 1265.3,54.4 1266.4,53.7 1267.5,55.3 1268.6,54.9 1269.8,54 1270.9,53.7 1272,52.9 1273.1,51.7 1274.2,51.7 1275.3,50.4 1276.4,53.7 1277.5,51.2 1278.7,51 1279.8,48.9 1280.9,51.4 1282,50.5 1283.1,52.1 1284.2,50.2 1285.3,50.1 1286.4,51.5 1287.6,51.2 1288.7,50.5 1289.8,49.5 1290.9,52 1292,48.9 1293.1,50.7 1294.2,47.3 1295.3,47.9 1296.5,50.7 1297.6,51 1298.7,46.4 1299.8,49.1 1300.9,49.1 1302,50.6 1303.1,50.1 1304.3,48.7 1305.4,49 1306.5,51.2 1307.6,48.1 1308.7,49.5 1309.8,51.4 1310.9,48.6 1312,50.3 1313.2,49 1314.3,51 1315.4,49.7 1316.5,52.8 1317.6,49.9 1318.7,52.9 1319.8,50.5 1320.9,54.7 1322.1,51.2 1323.2,50.3 1324.3,50.9 1325.4,50.2 1326.5,53.9 1327.6,50.5 1328.7,51 1329.8,55.8 1331,56.1 1332.1,56.7 1333.2,57.1 1334.3,58.3 1335.4,64 1336.5,61.4 1337.6,64.9 1338.8,68.2 1339.9,67.3 1341,70.5 1342.1,68.6 1343.2,68.5 1344.3,67.8 1345.4,63.1 1346.5,61.2 1347.7,61 1348.8,60.8 1349.9,57.7 1351,54.7 1352.1,55 1353.2,51.2 1354.3,52.7 1355.4,52.2 1356.6,51.5 1357.7,53 1358.8,51.5 1359.9,52 1361,54.3 1362.1,53.2 1363.2,49.3 1364.3,50.9 1365.5,50.3 1366.6,52.2 1367.7,50.8 1368.8,48.7 1369.9,49.6 1371,50.4 1372.1,47.4 1373.2,49.7 1374.4,50 1375.5,47.8 1376.6,52 1377.7,48.6 1378.8,51.1 1379.9,50.6 1381,50.4 1382.2,49.2 1383.3,49.2 1384.4,48.9 1385.5,49.1 1386.6,47.3 1387.7,46.9 1388.8,48.4 1389.9,48.4 1391.1,50.1 1392.2,51.2 1393.3,48.7 1394.4,49.6 1395.5,48.5 1396.6,52.5 1397.7,45.9 1398.8,51.9 1400,50.1 1401.1,48.8 1402.2,52.4 1403.3,51.3 1404.4,53.7 1405.5,53 1406.6,54 1407.7,51.3 1408.9,51.3 1410,52.6 1411.1,50.7 1412.2,51 1413.3,53.6 1414.4,54.7 1415.5,55.6 1416.7,56.8 1417.8,55.5 1418.9,58.5 1420,61.1 1421.1,63.1 1422.2,64.5 1423.3,68.9 1424.4,71.3 1425.6,75.5 1426.7,77.1 1427.8,80.4 1428.9,85.9 1430,83.8 1431.1,80.3 1432.2,78.4 1433.3,72.3 1434.5,69.1 1435.6,65.2 1436.7,63.3 1437.8,60.4 1438.9,58.2 1440,59.6 1441.1,57.5 1442.2,56.6 1443.4,51.7 1444.5,53 1445.6,52.3 1446.7,52.1 1447.8,52.7 1448.9,52.6 1450,49.9 1451.1,51.5 1452.3,48.3 1453.4,50.1 1454.5,50.1 1455.6,50.4 1456.7,50 1457.8,49.7 1458.9,47.4 1460.1,46.1 1461.2,51.1 1462.3,49 1463.4,48.2 1464.5,50.5 1465.6,50 1466.7,49.7 1467.8,52.5 1469,48 1470.1,48.9 1471.2,49 1472.3,48.7 1473.4,48.4 1474.5,45.3 1475.6,48.4 1476.7,47.4 1477.9,49.4 1479,48 1480.1,49 1481.2,48.7 1482.3,49.8 1483.4,49.7 1484.5,47.8"/>
<path d="M914.5 48.2L940.2 48.6 955.6 49.3 961.1 49.8 965.6 50.6 969.2 51.5 972.3 52.7 974.8 54.1 976.9 55.9 978.7 58 980.4 60.8 981.8 63.7 983.2 67.5 987.2 81.5 988.1 83.5 988.6 84 988.9 84.1 989.4 84 989.8 83.5 990.8 81.4 994.6 69.2 996.4 64.2 998.2 60.7 1000.1 57.8 1001.4 56.3 1002.8 55 1004.4 53.8 1006.2 52.9 1010.3 51.4 1015.6 50.3 1021.4 49.7 1028.7 49.3 1037.8 49.1 1047.5 49.2 1055.4 49.4 1061.7 49.8 1066.6 50.4 1070.5 51.3 1073.1 52.1 1075.3 53.2 1077.1 54.5 1078.9 56.1 1080.2 57.9 1081.6 60.1 1085.7 68.6 1086.6 69.7 1087.4 70.1 1088.3 69.8 1089.4 68.7 1094.5 59.5 1096.2 57.2 1097.9 55.4 1100.1 53.8 1102.6 52.5 1105.6 51.6 1109.3 50.9 1116.7 50.3 1126.5 50.2 1137.3 50.6 1146.5 51.5 1153.3 52.7 1158.8 54.3 1163.3 56.2 1165.3 57.4 1167.1 58.7 1169.7 61.1 1172.1 64.2 1174.3 67.9 1176.3 72.3 1183.7 93.7 1185.3 100 1186.8 108.2 1187.9 116.4 1189.1 126.6 1191.1 151 1192.8 177.6 1196.1 237 1197.6 257.9 1198.4 265.6 1199.2 270.6 1200.1 273.6 1200.8 274.7 1201.3 275.1 1201.6 275 1202 274.4 1202.5 272.5 1203.1 269.3 1203.8 263.7 1204.9 251 1207.6 216.9 1209.1 202 1209.7 197.3 1210.3 194.5 1210.9 192.7 1211.5 192.1 1211.8 192.3 1212.1 192.8 1212.8 195.1 1213.5 199 1214.3 205.4 1215.7 220.2 1218.5 256.9 1219.9 269.4 1220.6 272.9 1220.9 274 1221.4 274.7 1221.9 274.7 1222.3 274.1 1223 272.8 1223.5 271.4 1224.1 268 1224.8 262.7 1226.1 247.8 1230.5 169.8 1232.6 139.5 1234.8 116.2 1235.9 106.9 1237.1 99.4 1238.3 92.7 1239.7 87 1241.2 82.4 1242.7 79 1243.7 77.4 1244.8 76 1248.3 73.2 1249.5 71.9 1250.8 70 1253.8 64.8 1255.4 62.3 1257.3 59.9 1259.5 57.8 1261.2 56.6 1263.1 55.5 1265.3 54.5 1267.7 53.7 1273.4 52.2 1280.5 51.2 1290.8 50.3 1302.6 49.9 1312.9 50.1 1320.4 50.8 1323.9 51.5 1326.9 52.5 1329.4 53.8 1331.6 55.4 1333.3 57.3 1335 59.7 1340.1 69 1341 70 1341.8 70.3 1342.6 70 1343.5 68.8 1347.6 60.3 1348.9 58.2 1350.2 56.4 1351.8 54.8 1353.5 53.5 1355.5 52.5 1357.8 51.6 1361.2 50.8 1365.3 50.1 1370.5 49.7 1376.8 49.4 1384.5 49.4 1392.1 49.6 1398.4 49.9 1403.4 50.5 1408.4 51.6 1410.5 52.3 1412.4 53.1 1414.1 54.1 1415.6 55.2 1417 56.5 1418.2 58 1420.1 60.8 1421.8 64.3 1423.6 69.2 1427.4 81.2 1428.4 83.3 1428.9 83.8 1429.3 84 1429.8 83.8 1430.3 83.3 1431.2 81.2 1434.9 68 1436.1 64.7 1437.3 61.8 1438.7 59.2 1440.3 57 1442 55.3 1444.1 53.7 1446.6 52.4 1449.5 51.4 1452.9 50.5 1457.1 49.9 1462.1 49.4 1468.4 49 1485.9 48.4" fill="none" stroke="#808080" stroke-width="8.0" stroke-linejoin="round"/>
<path d="M914.5 44.1L1064.9 44.3 1100.6 44.7 1124.2 45.3 1133.7 45.8 1141.6 46.4 1148.2 47.2 1153.8 48.1 1158.6 49.2 1162.9 50.6 1166.5 52.3 1169.7 54.3 1172.8 57 1175.6 60.3 1178 64.3 1180.1 69.1 1182 74.5 1183.7 81 1185.3 89 1186.7 97.7 1188.7 115 1190.5 136.1 1192.5 165.3 1196.8 241.9 1198.1 257.1 1198.8 262.6 1199.5 266.2 1199.9 267.7 1200.6 269.2 1201.1 269.8 1201.5 269.9 1202 269.3 1202.3 268.3 1203 265 1203.7 259.7 1204.5 251.5 1207.3 214.8 1208.7 200.1 1209.5 193.9 1210.2 190.1 1210.9 187.9 1211.2 187.4 1211.6 187.3 1212.1 188.1 1212.7 189.9 1214 197.6 1215.5 212.7 1218.1 246.7 1219.1 258.1 1219.8 263.8 1220.4 267.2 1220.9 269.2 1221.3 269.7 1221.6 269.9 1222.2 269.4 1222.9 268.2 1223.8 265 1224.6 259.7 1225.4 251.7 1226.9 230.3 1230.2 170.2 1231.9 143.1 1234 118 1235.1 107.1 1236.3 98.1 1237.6 89.4 1239.1 81.8 1240.7 75.5 1242.4 70.2 1244.4 65.5 1246.6 61.6 1249.1 58.2 1251.8 55.4 1254.8 53.3 1258.2 51.4 1262.2 49.8 1266.8 48.6 1272 47.6 1278.3 46.7 1285.6 46 1294.4 45.5 1316.5 44.8 1349.3 44.4 1485.9 44.1" fill="none" stroke="#008000" stroke-width="4.2" stroke-linejoin="round"/>
<path d="M914.5 46.9L939.4 47.2 954.7 47.7 960.2 48.1 964.8 48.6 968.5 49.2 971.6 50 974.1 51 976.3 52.2 978.3 53.6 980 55.3 981.5 57.2 983 59.6 987.6 69.1 988.7 70.4 989.2 70.7 989.7 70.8 990.2 70.7 990.7 70.3 991.8 68.9 995.8 60.8 997.9 57.2 1000.2 54.4 1002.7 52.4 1004.4 51.4 1006.3 50.6 1010.8 49.3 1016.7 48.4 1024.6 47.9 1038.8 47.5 1054.3 47.6 1064.3 48.2 1068.1 48.6 1071.2 49.2 1073.5 49.8 1075.5 50.6 1077.4 51.5 1079 52.5 1080.5 53.8 1081.8 55.3 1086.4 61.2 1087.4 62 1088.5 62.3 1089.5 61.9 1090.5 61 1094.5 55.8 1096.6 53.6 1098.6 52 1100.8 50.7 1104 49.6 1107.9 48.7 1112.9 48.1 1119.3 47.7 1131.1 47.3 1145.6 47.3 1156.4 47.5 1163.7 48 1167.9 48.7 1171.3 49.6 1174.2 50.9 1178.8 53.7 1179.8 54.1 1180.8 54.2 1181.7 54.1 1182.7 53.8 1187.8 50.7 1191.5 49.2 1196.4 48.2 1203.2 47.7 1211.6 47.4 1221.1 47.5 1228.3 47.8 1233.5 48.3 1236.8 49 1239.6 49.8 1242.1 51 1246.4 53.7 1247.5 54.1 1248.5 54.2 1249.4 54.1 1250.4 53.7 1255.1 50.9 1258 49.6 1261.6 48.6 1266.2 48 1274.7 47.5 1287.5 47.3 1302.6 47.4 1313.7 47.9 1318.9 48.3 1323.1 49 1326.6 49.9 1329.4 51.1 1331.4 52.3 1333.2 53.9 1335.1 56 1339 61.1 1340.1 62 1341.1 62.3 1342.1 62 1343.1 61.2 1347.6 55.4 1350.3 52.8 1351.8 51.7 1353.4 50.9 1357.3 49.5 1360.1 48.9 1363.4 48.5 1372 47.9 1384.3 47.7 1396.1 48.1 1403 48.7 1408.3 49.6 1412.5 50.9 1414.2 51.7 1415.8 52.7 1418.1 54.7 1420.2 57.1 1422.4 60.8 1426.4 68.9 1427.5 70.4 1428.1 70.8 1428.5 70.8 1429 70.7 1429.6 70.3 1430.6 69 1434.9 60.1 1436.3 57.8 1437.7 55.9 1439.2 54.3 1440.8 52.9 1442.6 51.7 1444.7 50.7 1447.3 49.8 1450.3 49.1 1453.8 48.5 1457.9 48.1 1469 47.5 1485.9 47.1" fill="none" stroke="#ff0000" stroke-width="4.2" stroke-linejoin="round"/>
<path d="M914.5 44.1L958.3 44.4 967.7 44.7 973.9 45.4 976.2 45.8 978 46.4 979.6 47.1 981.1 48.1 982.4 49.2 983.5 50.6 987 55.7 987.6 56.3 988.3 56.5 989 56.2 989.7 55.5 992.6 51.2 994.2 49.2 995.9 47.8 997.9 46.7 1000.8 45.7 1004.6 45.1 1009.6 44.7 1016.6 44.4 1032.1 44.2 1053.3 44.2 1065 44.4 1072.2 44.8 1076.3 45.3 1079.3 46.2 1081.7 47.5 1085.1 50.2 1085.8 50.5 1086.5 50.6 1087.2 50.5 1087.9 50.2 1090.7 47.9 1092.2 46.9 1093.8 46.1 1095.7 45.5 1098.2 45.1 1101.4 44.7 1111.3 44.3 1144.4 44.1 1166.4 44.4 1170.5 44.6 1173.6 45 1176 45.6 1179.5 46.8 1180.8 47 1182.3 46.7 1186.3 45.4 1188.8 44.9 1193.1 44.5 1199.5 44.3 1223.2 44.2 1237.5 44.5 1240.8 44.7 1243.5 45.1 1245.5 45.6 1248.7 46.8 1250.1 47 1251.5 46.8 1254.9 45.6 1257.3 45 1260.4 44.6 1264.7 44.4 1290.1 44.1 1320.4 44.4 1328.7 44.8 1331.6 45.2 1333.9 45.7 1336.9 47 1338.3 48 1341 50.1 1341.8 50.5 1342.5 50.7 1343.1 50.6 1343.8 50.2 1347.3 47.5 1349.4 46.3 1352.3 45.4 1356.1 44.9 1362.5 44.5 1372.8 44.3 1390.1 44.3 1403.5 44.5 1409.9 44.8 1414.6 45.2 1418 45.8 1420.8 46.8 1422.7 47.9 1424.3 49.3 1425.9 51.3 1428.7 55.4 1429.5 56.2 1430.1 56.5 1430.8 56.3 1431.5 55.7 1434.8 50.7 1437 48.4 1438.3 47.5 1439.6 46.7 1443.1 45.6 1448.1 44.9 1455.4 44.5 1466.8 44.2 1485.9 44.1" fill="none" stroke="#0000ff" stroke-width="4.2" stroke-linejoin="round"/>
</g>
<g clip-path="url(#cb2)">
<polyline fill="none" stroke="none" marker-start="url(#mb2)" marker-mid="url(#mb2)" marker-end="url(#mb2)" points="915.9,313.6 917,314.4 918.1,317.4 919.2,314.8 920.3,322.4 921.4,313.2 922.5,315.8 923.7,315 924.8,312.7 925.9,316.9 927,313.3 928.1,317 929.2,314.5 930.3,317 931.4,315.2 932.6,312.2 933.7,317.8 934.8,317.7 935.9,317 937,315.4 938.1,309 939.2,317.9 940.3,321.8 941.5,318.2 942.6,320.8 943.7,318.1 944.8,316.7 945.9,319.4 947,318.7 948.1,322 949.3,316.7 950.4,319.3 951.5,314.6 952.6,314.8 953.7,320.1 954.8,318.9 955.9,318 957,316.3 958.2,323 959.3,319 960.4,314.2 961.5,319.7 962.6,319.2 963.7,320.2 964.8,323.8 965.9,318.6 967.1,321 968.2,321.9 969.3,321.1 970.4,321.8 971.5,329.8 972.6,324.7 973.7,328.8 974.8,328.3 976,332.4 977.1,335 978.2,332.7 979.3,338.3 980.4,342.7 981.5,347.2 982.6,351.6 983.7,358.3 984.9,372 986,376.4 987.1,383 988.2,387 989.3,388.3 990.4,392.8 991.5,380 992.7,377.9 993.8,369.2 994.9,364.7 996,358.3 997.1,347.1 998.2,346.6 999.3,342.1 1000.4,335.3 1001.6,330.8 1002.7,336.9 1003.8,331.3 1004.9,329.1 1006,322.7 1007.1,319.7 1008.2,325.3 1009.3,323.2 1010.5,321.1 1011.6,319.6 1012.7,322.8 1013.8,319.2 1014.9,322.8 1016,327.6 1017.1,323.8 1018.2,319.2 1019.4,317.4 1020.5,325.2 1021.6,323.8 1022.7,318.9 1023.8,327.5 1024.9,316.9 1026,315.5 1027.2,326 1028.3,316 1029.4,318.4 1030.5,314 1031.6,316.9 1032.7,318.2 1033.8,317.2 1034.9,315 1036.1,316.9 1037.2,317.3 1038.3,321.2 1039.4,316.1 1040.5,317.2 1041.6,312.4 1042.7,317.3 1043.8,317.5 1045,319 1046.1,315.4 1047.2,317.9 1048.3,319.3 1049.4,313.2 1050.5,312.8 1051.6,318.8 1052.7,320.4 1053.9,314.8 1055,320.1 1056.1,310.5 1057.2,318.5 1058.3,315.8 1059.4,321.9 1060.5,318.8 1061.6,316.1 1062.8,318.1 1063.9,320.9 1065,313.4 1066.1,318.3 1067.2,321.3 1068.3,322.8 1069.4,322.6 1070.6,319 1071.7,325.4 1072.8,324.3 1073.9,327.7 1075,323.6 1076.1,329 1077.2,328.3 1078.3,331.5 1079.5,337.5 1080.6,337.6 1081.7,341.3 1082.8,351.8 1083.9,352.3 1085,349.8 1086.1,363.7 1087.2,362.3 1088.4,366.1 1089.5,358.1 1090.6,356.7 1091.7,348.7 1092.8,346.5 1093.9,345.5 1095,335.9 1096.1,336.3 1097.3,335.7 1098.4,330.6 1099.5,331.5 1100.6,326.2 1101.7,326.1 1102.8,325.8 1103.9,322.1 1105.1,326.4 1106.2,319.7 1107.3,327 1108.4,316.9 1109.5,320.2 1110.6,321 1111.7,322 1112.8,318.2 1114,319.9 1115.1,319.7 1116.2,316.3 1117.3,320 1118.4,319.3 1119.5,317.4 1120.6,315.6 1121.7,318.8 1122.9,317.9 1124,318.1 1125.1,316.2 1126.2,314.2 1127.3,320.6 1128.4,318.5 1129.5,318.3 1130.6,316.6 1131.8,314.2 1132.9,318.2 1134,317.7 1135.1,315.2 1136.2,321.6 1137.3,320.4 1138.4,319.7 1139.5,318.6 1140.7,318 1141.8,320.1 1142.9,314.2 1144,320.9 1145.1,319.7 1146.2,316.4 1147.3,317.4 1148.5,319.7 1149.6,318.9 1150.7,317.9 1151.8,320.4 1152.9,318.9 1154,323.4 1155.1,321.1 1156.2,326.1 1157.4,324.5 1158.5,325.6 1159.6,319.7 1160.7,324.9 1161.8,323.5 1162.9,327.5 1164,326.4 1165.1,327.5 1166.3,330.1 1167.4,326.7 1168.5,334.8 1169.6,330.2 1170.7,326.6 1171.8,338 1172.9,338.2 1174,345.4 1175.2,344.6 1176.3,353 1177.4,350.8 1178.5,358.2 1179.6,366.1 1180.7,368.1 1181.8,371.4 1183,369.8 1184.1,368.8 1185.2,374.9 1186.3,381 1187.4,385.5 1188.5,390.1 1189.6,406.1 1190.7,409.4 1191.9,423.8 1193,447.7 1194.1,456.3 1195.2,483.6 1196.3,499.3 1197.4,513 1198.5,534.1 1199.6,543.4 1200.8,545.6 1201.9,547.2 1203,543.4 1204.1,538.6 1205.2,528.2 1206.3,514.7 1207.4,499.3 1208.5,487.5 1209.7,473.1 1210.8,466.2 1211.9,465 1213,457.5 1214.1,469.9 1215.2,472.5 1216.3,487.8 1217.4,498.5 1218.6,512.5 1219.7,524.9 1220.8,533.4 1221.9,544.9 1223,535.8 1224.1,540.5 1225.2,539.3 1226.4,531.6 1227.5,507.5 1228.6,491.5 1229.7,476.1 1230.8,454.1 1231.9,433.9 1233,420.6 1234.1,407.7 1235.3,394.7 1236.4,382.5 1237.5,376.6 1238.6,373.5 1239.7,363 1240.8,365.8 1241.9,360.3 1243,352.9 1244.2,354.4 1245.3,353.9 1246.4,354.3 1247.5,352.1 1248.6,355 1249.7,359.4 1250.8,351.6 1251.9,357.6 1253.1,351.4 1254.2,338.2 1255.3,336.5 1256.4,337.8 1257.5,334.3 1258.6,331.9 1259.7,327.7 1260.9,331 1262,330 1263.1,328.2 1264.2,325.2 1265.3,324.1 1266.4,325.1 1267.5,321.4 1268.6,325.6 1269.8,322.6 1270.9,323.8 1272,324.2 1273.1,317.8 1274.2,321.7 1275.3,323.3 1276.4,320.2 1277.5,322.7 1278.7,318.2 1279.8,317.3 1280.9,316.7 1282,322.1 1283.1,319.5 1284.2,314 1285.3,319.4 1286.4,315.3 1287.6,314.5 1288.7,322.3 1289.8,315.2 1290.9,316.4 1292,316 1293.1,313.7 1294.2,317 1295.3,318 1296.5,316.6 1297.6,319.1 1298.7,316.9 1299.8,323.6 1300.9,313.5 1302,319.7 1303.1,316.8 1304.3,317.5 1305.4,318.1 1306.5,318.1 1307.6,318.3 1308.7,323 1309.8,320.2 1310.9,315.6 1312,321.8 1313.2,322 1314.3,313.7 1315.4,316.4 1316.5,315.7 1317.6,320.2 1318.7,319.8 1319.8,318.9 1320.9,319.9 1322.1,322.2 1323.2,326.5 1324.3,325.3 1325.4,328.2 1326.5,320.9 1327.6,327.4 1328.7,328.2 1329.8,328.6 1331,331.3 1332.1,332.3 1333.2,338.2 1334.3,344 1335.4,339.1 1336.5,350.2 1337.6,354.4 1338.8,360.3 1339.9,363.9 1341,365 1342.1,362.9 1343.2,364.8 1344.3,356.5 1345.4,353.8 1346.5,343.7 1347.7,345.7 1348.8,338.3 1349.9,333.4 1351,336.3 1352.1,330.1 1353.2,328.2 1354.3,329.2 1355.4,326.3 1356.6,322 1357.7,323.1 1358.8,324 1359.9,322.8 1361,320.5 1362.1,317.8 1363.2,318.6 1364.3,318.4 1365.5,315.9 1366.6,323.9 1367.7,323.4 1368.8,325.4 1369.9,316.9 1371,325.1 1372.1,319 1373.2,316.7 1374.4,322.4 1375.5,320.3 1376.6,319.2 1377.7,316.5 1378.8,322.4 1379.9,317.5 1381,316.5 1382.2,318 1383.3,317.9 1384.4,315.1 1385.5,317.8 1386.6,318.5 1387.7,319.4 1388.8,316.9 1389.9,319.5 1391.1,317.1 1392.2,318.7 1393.3,316.1 1394.4,321.3 1395.5,319.2 1396.6,318.7 1397.7,318.8 1398.8,317.1 1400,319.4 1401.1,318.4 1402.2,315.9 1403.3,319.3 1404.4,324.9 1405.5,326.4 1406.6,321.5 1407.7,325 1408.9,324.1 1410,326.3 1411.1,323.6 1412.2,325.2 1413.3,332.9 1414.4,331.1 1415.5,334.8 1416.7,340 1417.8,337.9 1418.9,343.6 1420,346.3 1421.1,345.9 1422.2,354.6 1423.3,361.5 1424.4,372.2 1425.6,381 1426.7,380.8 1427.8,389.6 1428.9,390.5 1430,389.4 1431.1,382.1 1432.2,367.9 1433.3,366.6 1434.5,358.8 1435.6,351 1436.7,345.3 1437.8,344.7 1438.9,342.6 1440,336.4 1441.1,333 1442.2,332.4 1443.4,331.2 1444.5,329.6 1445.6,326.9 1446.7,325.1 1447.8,328.1 1448.9,324.5 1450,321.4 1451.1,322 1452.3,324.8 1453.4,321.6 1454.5,320.3 1455.6,317.9 1456.7,323.8 1457.8,317.4 1458.9,320.2 1460.1,318.2 1461.2,316.7 1462.3,320.6 1463.4,320.2 1464.5,318.2 1465.6,315.8 1466.7,319 1467.8,321.2 1469,319.2 1470.1,316.2 1471.2,314 1472.3,318.3 1473.4,317.8 1474.5,317.3 1475.6,317.1 1476.7,319.2 1477.9,317.8 1479,316 1480.1,316.2 1481.2,316.4 1482.3,319 1483.4,317.7 1484.5,318.1"/>
<path d="M914.5 315.5L928.8 315.9 939.7 316.4 948.3 317.1 955.2 318.1 960.8 319.3 965.3 320.9 969.1 323 972.2 325.6 974.8 328.8 977 332.7 978.9 337.4 980.8 343.5 982.3 350 983.6 357.7 987.9 387.4 988.7 390.9 989.1 391.9 989.5 392.1 989.9 391.7 990.4 390.6 991.3 386.7 995.1 362.3 997 351.6 998.8 343.8 1000.8 337.6 1002.2 334.2 1003.5 331.5 1005 329.1 1006.7 326.9 1008.7 325 1010.7 323.4 1013 322.1 1015.6 320.9 1018.3 320.1 1021.1 319.4 1028 318.3 1036.6 317.7 1046.1 317.7 1053.9 318.2 1060.5 319.1 1065.6 320.5 1067.8 321.4 1069.7 322.4 1072.3 324.4 1074.6 326.8 1076.7 329.9 1078.4 333.5 1079.9 337.6 1081.3 342.5 1085.4 361.1 1086.3 363.6 1086.7 364.3 1087.1 364.4 1087.5 364.3 1088 363.7 1089 361.2 1094.2 341.9 1095.9 336.8 1097.6 332.7 1099.5 329.2 1101.8 326.2 1104.5 323.8 1107.4 322 1110 321 1112.8 320.1 1116.1 319.4 1119.9 319 1124.4 318.7 1129.2 318.5 1139.2 318.9 1147.4 319.9 1151.1 320.6 1154.3 321.5 1157.3 322.5 1159.9 323.6 1162.2 324.9 1164.4 326.5 1167 328.9 1169.3 331.8 1171.3 335.2 1173.3 339.5 1175.8 346.9 1179.3 360.4 1180.5 364.2 1181.6 367 1184.3 371.8 1185.4 374.8 1186.5 379.1 1187.6 384.4 1188.7 392.1 1189.7 400.8 1191.8 424.3 1193.5 450.1 1196.8 507.4 1198.3 527.6 1199.1 535.1 1199.9 540 1200.8 542.9 1201.5 544 1202.1 544.4 1202.4 544.2 1202.8 543.7 1203.3 541.7 1203.9 538.5 1204.6 533.1 1205.7 520.7 1208.5 486 1209.9 472.5 1211.1 464.7 1211.8 462.5 1212.4 461.9 1212.7 462.1 1213.1 462.6 1213.7 464.8 1214.4 468.5 1215.2 474.7 1216.6 489 1219.5 525 1220.9 538.4 1221.6 541.9 1222 542.9 1222.4 543.7 1222.9 543.7 1223.3 543.2 1224 542 1224.5 540.7 1225.2 537.6 1225.9 532.7 1227.2 517.2 1228.5 497.6 1231.8 439.4 1233.9 410.1 1236 387.7 1237.2 378.9 1238.3 371.8 1239.2 367.3 1240.3 363.2 1241.3 360 1242.4 357.4 1243.6 355.8 1244.7 354.9 1245.9 354.7 1247.8 355.1 1248.6 355.1 1249.4 354.7 1250.1 353.9 1251.4 351.2 1255 340.2 1257.4 334.5 1258.9 331.8 1260.4 329.7 1262.1 327.7 1264 325.9 1266.1 324.4 1268.5 323.1 1271.1 322 1274 321.1 1277.3 320.3 1281 319.6 1289.6 318.7 1300.2 318.4 1305.1 318.6 1309.5 318.9 1313.3 319.4 1316.6 320.1 1319.5 321 1322 322.1 1325 324 1327.6 326.5 1329.9 329.6 1331.8 333.3 1333.5 337.7 1335.1 342.9 1339.8 362.5 1340.7 364.8 1341.2 365.4 1341.5 365.4 1341.9 365.2 1342.3 364.5 1343.1 362.3 1347.3 344 1348.6 339.1 1350.1 334.8 1351.8 331 1353.7 328 1355.7 325.5 1358.1 323.5 1359.8 322.4 1361.7 321.5 1365.9 320 1371 319 1377.3 318.5 1384.9 318.4 1392 318.9 1397.9 319.9 1402.8 321.4 1405.2 322.5 1407.4 323.8 1409.3 325.3 1411.2 327.1 1412.9 329.3 1414.4 331.7 1415.7 334.4 1417 337.4 1419.2 344.3 1421.2 353 1422.8 361.5 1425.9 380 1427.1 386 1428 389.4 1428.4 390.3 1428.9 390.6 1429.3 390.2 1429.7 389.5 1430.6 385.6 1434.5 357.9 1435.7 350.6 1437 344.7 1438.5 339.2 1440.1 334.7 1441.9 330.9 1444 327.7 1446.6 324.8 1449.6 322.6 1453.1 320.7 1457.3 319.3 1462.5 318.1 1468.7 317.3 1476.3 316.6 1485.9 316.1" fill="none" stroke="#808080" stroke-width="8.0" stroke-linejoin="round"/>
<path d="M914.5 312.5L1064.5 312.8 1100.1 313.1 1124 313.8 1133.5 314.2 1141.5 314.8 1148.2 315.6 1154 316.6 1158.9 317.7 1163.1 319.1 1166.8 320.8 1170 322.8 1173.2 325.6 1176 329.1 1178.4 333 1180.6 337.9 1182.5 343.7 1184.3 350.3 1185.9 358.3 1187.2 367 1189.3 384.3 1191.1 405.1 1193.1 433.8 1197.5 510.9 1198.9 526.9 1199.5 531.3 1200.1 534.9 1201.1 537.5 1201.7 538.6 1202.2 538.8 1202.7 538.4 1203 537.6 1203.8 533.9 1204.5 528.8 1205.3 520.9 1208.1 485.1 1209.5 470.5 1210.3 464.3 1211 460.4 1211.8 457.8 1212.1 457.3 1212.5 457.2 1213.1 457.9 1213.7 460.1 1215 468 1216.4 481.7 1219 514.8 1220.1 527.2 1220.8 532.8 1221.4 536 1222 538 1222.3 538.6 1222.7 538.8 1223.2 538.4 1223.9 537.1 1224.8 534.2 1225.7 528.4 1226.5 520.5 1228 499.6 1231.3 440.6 1233.2 412.1 1235.4 386 1236.5 375.4 1237.6 366.6 1239 358 1240.5 350.6 1242.1 344.3 1243.8 339 1245.8 334.3 1248 330.2 1250.6 326.8 1253.3 324.1 1256.3 321.8 1259.7 320 1263.7 318.4 1268.3 317.1 1273.5 316.1 1279.8 315.2 1287.2 314.5 1296.1 314 1318 313.3 1350.7 312.8 1401.2 312.6 1485.9 312.5" fill="none" stroke="#008000" stroke-width="4.2" stroke-linejoin="round"/>
<path d="M914.5 312.6L942.9 312.8 958.8 313.3 964.3 313.7 968.5 314.2 972 315 974.7 315.9 977 317.1 978.8 318.6 980.4 320.5 981.9 322.9 983.2 325.8 984.3 329.2 987.8 342.3 988.4 344 988.8 344.4 989.1 344.5 989.5 344.3 989.8 343.9 990.5 342.2 993.5 330.6 995.1 325.7 996.8 322 998.7 319.3 1000.1 318 1001.6 316.9 1003.3 316 1005.2 315.3 1007.5 314.7 1010.3 314.2 1017.2 313.5 1033.2 313 1054.1 313.1 1065.4 313.6 1069.1 314.1 1072.2 314.7 1074.5 315.5 1076.3 316.4 1077.9 317.6 1079.3 319 1080.6 320.8 1081.7 322.9 1085.1 331 1085.8 332 1086.5 332.3 1087.2 331.9 1087.9 330.8 1090.7 323.9 1092.2 321 1093.8 318.8 1095.5 317.1 1098.1 315.6 1101.3 314.6 1105.5 313.8 1111.2 313.3 1124.5 312.9 1144.8 312.8 1158.4 313 1166.4 313.6 1170.5 314.4 1172.1 314.9 1173.6 315.6 1176 317.5 1179.5 321.4 1180.1 321.8 1180.8 322 1181.5 321.8 1182.3 321.2 1184.9 318.1 1186.3 316.8 1188.8 315.2 1190.8 314.5 1193.1 313.9 1199.3 313.2 1209.5 312.9 1223.1 312.9 1231.8 313.2 1237.5 313.9 1240.8 314.7 1243.5 316 1245.5 317.7 1248.7 321.3 1249.4 321.8 1250.1 322 1250.8 321.8 1251.5 321.4 1254.9 317.5 1257.3 315.6 1258.8 314.9 1260.4 314.4 1264.6 313.6 1273.4 313 1288.8 312.8 1307.9 313 1319.6 313.5 1324.3 314 1327.9 314.9 1330.7 315.9 1333 317.4 1334.6 319.1 1335.9 321.1 1337.4 324 1340.2 330.7 1341 332 1341.7 332.3 1342.3 332 1343 331 1346.3 323.1 1347.5 321 1348.6 319.3 1350 317.8 1351.5 316.6 1353.2 315.7 1355.3 314.9 1358.1 314.3 1361.6 313.8 1371.6 313.2 1389.1 313.1 1396.9 313.3 1403 313.6 1409.4 314.4 1414 315.5 1415.8 316.2 1417.4 317.1 1418.9 318.3 1420.2 319.5 1422.1 322.4 1423.7 325.9 1425.3 331 1428.2 342.1 1428.9 343.9 1429.2 344.3 1429.6 344.5 1429.9 344.4 1430.3 344 1430.9 342.4 1434.3 329.7 1435.3 326.5 1436.4 323.7 1437.7 321.3 1439.1 319.5 1440.7 317.9 1442.5 316.7 1444.8 315.6 1447.5 314.8 1450.8 314.1 1454.9 313.7 1466.6 313 1485.9 312.7" fill="none" stroke="#0000ff" stroke-width="4.2" stroke-linejoin="round"/>
<path d="M914.5 313.4L938.1 314.1 946.5 314.5 953.2 315.1 958.8 315.9 963.4 317 967.3 318.3 970.5 319.9 973.1 321.7 975.4 323.9 977.5 326.6 979.3 329.7 981 333.5 982.6 337.8 987.9 355.1 989.1 357.7 989.7 358.3 990.3 358.5 990.8 358.2 991.4 357.6 992.7 354.9 997.2 339.6 999.6 333 1002 328.2 1003.4 326.1 1004.8 324.3 1006.6 322.5 1008.7 320.9 1011 319.5 1013.5 318.4 1016.3 317.4 1019.6 316.7 1023.4 316 1027.6 315.6 1033.9 315.2 1040.9 315 1048 315 1054.3 315.3 1059.3 315.8 1063.5 316.5 1067.1 317.4 1070.2 318.6 1072.5 319.8 1074.4 321.2 1076.2 322.9 1077.9 324.9 1079.4 327.1 1080.9 329.8 1086.1 340.9 1087.2 342.5 1087.8 342.9 1088.3 343.1 1088.9 343 1089.6 342.5 1090.9 340.7 1095.4 330.7 1097.7 326.5 1099.9 323.5 1102.3 321.2 1103.9 320 1105.7 318.9 1107.8 317.9 1110 317.2 1115.2 315.9 1122 315.1 1132.8 314.5 1145.5 314.5 1155.3 314.9 1159.2 315.4 1162.4 315.9 1166.8 317.2 1168.6 318 1170.3 318.9 1173.4 321.3 1178.4 326.5 1179.7 327.3 1180.8 327.6 1181.9 327.3 1183 326.6 1188.8 320.8 1190.8 319.3 1192.7 318.1 1195.1 317.1 1197.9 316.3 1201.1 315.6 1204.8 315.2 1212.7 314.8 1221.2 314.9 1227.9 315.5 1233.2 316.5 1236.5 317.7 1239.4 319.3 1242.1 321.6 1246.9 326.5 1248.2 327.3 1249.3 327.6 1250.4 327.3 1251.7 326.5 1256.8 321.2 1259.9 318.8 1261.8 317.8 1263.7 317 1268.3 315.8 1271.9 315.2 1276.3 314.8 1287.6 314.5 1300.9 314.7 1306.5 315 1311.3 315.5 1316.7 316.5 1321.2 317.8 1324.9 319.5 1327.9 321.9 1330.3 324.5 1332.6 328 1334.3 331.3 1337.7 338.8 1339 341.4 1340.1 342.7 1341.1 343.2 1341.7 343.1 1342.2 342.7 1343.5 341 1348.4 330.3 1349.8 327.8 1351.3 325.5 1352.9 323.5 1354.5 321.9 1356.3 320.4 1358.2 319.3 1360.9 318.1 1364 317.2 1367.5 316.5 1371.7 316 1376.8 315.6 1382.2 315.6 1387.7 315.7 1392.9 316.1 1396.5 316.6 1399.8 317.3 1402.7 318 1405.3 319 1407.7 320.2 1409.8 321.6 1411.6 323.2 1413.3 325 1415.8 328.8 1418 333.2 1420.4 339.9 1425 355.1 1426.3 357.7 1426.8 358.4 1427.4 358.6 1428 358.3 1428.5 357.7 1429.8 355 1434.7 338.7 1436.2 334.5 1437.7 331 1439.3 328 1441 325.4 1442.9 323.2 1445.1 321.2 1447.7 319.5 1450.8 318.1 1454.5 316.9 1458.7 316 1463.7 315.2 1469.7 314.7 1485.9 313.8" fill="none" stroke="#ff0000" stroke-width="4.2" stroke-linejoin="round"/>
</g>
<g clip-path="url(#cb3)">
<polyline fill="none" stroke="none" marker-start="url(#mb3)" marker-mid="url(#mb3)" marker-end="url(#mb3)" points="915.9,582.9 917,581.7 918.1,585.2 919.2,581.4 920.3,587.2 921.4,587.3 922.5,590.4 923.7,585.8 924.8,588 925.9,586.4 927,585.2 928.1,587.5 929.2,590.3 930.3,587.1 931.4,587.3 932.6,587.1 933.7,585.2 934.8,588.1 935.9,588.3 937,582.4 938.1,584.5 939.2,588.2 940.3,591 941.5,589.6 942.6,587.3 943.7,586.1 944.8,581.5 945.9,589.8 947,588.8 948.1,590.7 949.3,589.6 950.4,591.3 951.5,593.8 952.6,587.7 953.7,590.9 954.8,587.8 955.9,593.7 957,591.9 958.2,591.3 959.3,599.7 960.4,598.8 961.5,593.3 962.6,596.2 963.7,603.2 964.8,601 965.9,603.3 967.1,603.2 968.2,598.8 969.3,607.3 970.4,601.8 971.5,611.6 972.6,616.3 973.7,613.2 974.8,619.7 976,623.8 977.1,628.4 978.2,638.6 979.3,646.7 980.4,665.3 981.5,673.1 982.6,679.7 983.7,689.9 984.9,695.3 986,702.1 987.1,696.2 988.2,688.5 989.3,685.2 990.4,675.5 991.5,667.3 992.7,657.3 993.8,651.5 994.9,646.5 996,637.9 997.1,632.4 998.2,632.2 999.3,622.2 1000.4,618.7 1001.6,614.5 1002.7,613.7 1003.8,607.8 1004.9,604.9 1006,606.9 1007.1,601.9 1008.2,598.9 1009.3,597.6 1010.5,601.5 1011.6,600.7 1012.7,596.6 1013.8,599 1014.9,587.5 1016,596.9 1017.1,596.3 1018.2,591.4 1019.4,594.3 1020.5,599.6 1021.6,592.6 1022.7,594.8 1023.8,593.1 1024.9,596.2 1026,593.8 1027.2,591.3 1028.3,590.9 1029.4,593.9 1030.5,592.5 1031.6,592.8 1032.7,589.7 1033.8,590.5 1034.9,593.8 1036.1,588 1037.2,592 1038.3,588.7 1039.4,592.6 1040.5,588.9 1041.6,590.2 1042.7,589.7 1043.8,588.4 1045,588.7 1046.1,589.6 1047.2,589.7 1048.3,594.1 1049.4,590.6 1050.5,597.2 1051.6,597.5 1052.7,591.9 1053.9,591.8 1055,586.8 1056.1,589.7 1057.2,588.6 1058.3,593.3 1059.4,591.4 1060.5,589.7 1061.6,592.1 1062.8,593.3 1063.9,594.7 1065,598.6 1066.1,599.4 1067.2,602 1068.3,597.6 1069.4,601 1070.6,603.8 1071.7,602.6 1072.8,607.6 1073.9,605.2 1075,605.6 1076.1,613.6 1077.2,621.3 1078.3,628.7 1079.5,623.8 1080.6,635 1081.7,647.1 1082.8,647.6 1083.9,662.7 1085,664.3 1086.1,666.6 1087.2,667 1088.4,666.6 1089.5,651 1090.6,653.4 1091.7,644.6 1092.8,639.4 1093.9,638.5 1095,630 1096.1,622.9 1097.3,616.4 1098.4,616.5 1099.5,611 1100.6,610.3 1101.7,604.9 1102.8,612.1 1103.9,600.8 1105.1,602.9 1106.2,601.3 1107.3,607 1108.4,600.5 1109.5,594.5 1110.6,588.4 1111.7,596.9 1112.8,596.2 1114,592.1 1115.1,592.2 1116.2,594.5 1117.3,592.8 1118.4,593.1 1119.5,589.8 1120.6,589 1121.7,585.8 1122.9,588.2 1124,588.8 1125.1,590.2 1126.2,587.6 1127.3,593.4 1128.4,583.7 1129.5,589.4 1130.6,585.9 1131.8,592.6 1132.9,587 1134,588.9 1135.1,590.7 1136.2,592.2 1137.3,592.9 1138.4,584.7 1139.5,586.6 1140.7,590 1141.8,589.9 1142.9,592.8 1144,596.4 1145.1,596.4 1146.2,592.9 1147.3,591.7 1148.5,595.1 1149.6,589.3 1150.7,590.4 1151.8,591.8 1152.9,598 1154,593.6 1155.1,593.5 1156.2,597.7 1157.4,601 1158.5,589 1159.6,593.6 1160.7,597.4 1161.8,592.1 1162.9,594.5 1164,597.6 1165.1,599.4 1166.3,599 1167.4,598.4 1168.5,604.5 1169.6,607.4 1170.7,607.2 1171.8,620.4 1172.9,614.6 1174,619.8 1175.2,622.8 1176.3,628 1177.4,631.6 1178.5,637.8 1179.6,643.3 1180.7,648.7 1181.8,650.9 1183,656.8 1184.1,654.3 1185.2,664.4 1186.3,660.8 1187.4,663.2 1188.5,673 1189.6,676.6 1190.7,679.5 1191.9,694.5 1193,709.6 1194.1,731 1195.2,737.1 1196.3,754.5 1197.4,768.3 1198.5,776.3 1199.6,791.1 1200.8,795 1201.9,799.2 1203,797.1 1204.1,793.2 1205.2,783 1206.3,772.6 1207.4,764.2 1208.5,751.1 1209.7,734.9 1210.8,734.5 1211.9,724.9 1213,721.6 1214.1,727.6 1215.2,735.3 1216.3,741.3 1217.4,756 1218.6,769.5 1219.7,781.5 1220.8,786 1221.9,792.2 1223,790.4 1224.1,794.6 1225.2,790.8 1226.4,783.6 1227.5,769.5 1228.6,757.2 1229.7,734.9 1230.8,719.2 1231.9,706.7 1233,698 1234.1,681.7 1235.3,661 1236.4,656.9 1237.5,649.3 1238.6,645.6 1239.7,639 1240.8,643.1 1241.9,641.4 1243,639.2 1244.2,633.6 1245.3,632 1246.4,633.7 1247.5,636.8 1248.6,641.6 1249.7,636.1 1250.8,639.4 1251.9,637.3 1253.1,634.9 1254.2,632.5 1255.3,629.2 1256.4,624.5 1257.5,622.5 1258.6,614 1259.7,612 1260.9,605.5 1262,611.7 1263.1,600.4 1264.2,602.4 1265.3,601.2 1266.4,601.8 1267.5,600.7 1268.6,601.7 1269.8,593.5 1270.9,596.1 1272,592.6 1273.1,591.6 1274.2,595.2 1275.3,593.9 1276.4,593.8 1277.5,589.2 1278.7,591.6 1279.8,591.2 1280.9,589.2 1282,591.4 1283.1,584.7 1284.2,593.6 1285.3,586.7 1286.4,586.1 1287.6,593.8 1288.7,587.5 1289.8,589.2 1290.9,587.3 1292,593.6 1293.1,589.1 1294.2,592.8 1295.3,590.8 1296.5,585.4 1297.6,590.1 1298.7,596.7 1299.8,594.1 1300.9,593.3 1302,586.7 1303.1,592.1 1304.3,594.8 1305.4,586.7 1306.5,589.4 1307.6,589.3 1308.7,593 1309.8,586.3 1310.9,591.3 1312,597.2 1313.2,594.9 1314.3,594.3 1315.4,592.5 1316.5,590 1317.6,595.1 1318.7,595.2 1319.8,587.1 1320.9,594.2 1322.1,596.8 1323.2,595.9 1324.3,600.8 1325.4,596.3 1326.5,596.2 1327.6,602.3 1328.7,599 1329.8,604.7 1331,604.8 1332.1,610.1 1333.2,612.6 1334.3,617.2 1335.4,614.6 1336.5,619 1337.6,622.1 1338.8,628.3 1339.9,632.6 1341,635.8 1342.1,637.9 1343.2,644.5 1344.3,653.8 1345.4,656.7 1346.5,656.6 1347.7,663.8 1348.8,657.1 1349.9,658.3 1351,649.9 1352.1,648.7 1353.2,636.4 1354.3,636.8 1355.4,626.3 1356.6,622.8 1357.7,623.3 1358.8,617.4 1359.9,606.5 1361,605.7 1362.1,600.8 1363.2,602.2 1364.3,610.1 1365.5,598.9 1366.6,600.2 1367.7,598.9 1368.8,597.8 1369.9,598 1371,597.9 1372.1,590.5 1373.2,592.4 1374.4,595.4 1375.5,594.3 1376.6,589.6 1377.7,591.1 1378.8,591.5 1379.9,595.6 1381,593 1382.2,595 1383.3,597.3 1384.4,588.5 1385.5,592.2 1386.6,592.5 1387.7,594.1 1388.8,588.9 1389.9,584.8 1391.1,589.5 1392.2,588.5 1393.3,595.3 1394.4,591.1 1395.5,591.1 1396.6,587.4 1397.7,592.1 1398.8,595.3 1400,592.9 1401.1,594.4 1402.2,589 1403.3,591.8 1404.4,593.3 1405.5,594.4 1406.6,593 1407.7,597.8 1408.9,600 1410,603.9 1411.1,595.5 1412.2,598.8 1413.3,599.8 1414.4,603.2 1415.5,600 1416.7,610.2 1417.8,605.7 1418.9,614.6 1420,616.2 1421.1,621.7 1422.2,621 1423.3,625.7 1424.4,627.3 1425.6,634.7 1426.7,641.8 1427.8,641.1 1428.9,645.1 1430,654.1 1431.1,664.8 1432.2,672.4 1433.3,688.1 1434.5,692 1435.6,693.2 1436.7,697.5 1437.8,699.4 1438.9,688 1440,682.2 1441.1,669.3 1442.2,665.5 1443.4,653.1 1444.5,641.7 1445.6,634.2 1446.7,626.9 1447.8,623.2 1448.9,619.1 1450,613.1 1451.1,608.5 1452.3,613 1453.4,606.8 1454.5,604.4 1455.6,601.4 1456.7,597.2 1457.8,603 1458.9,596.1 1460.1,602 1461.2,598 1462.3,596.5 1463.4,595 1464.5,595.3 1465.6,594.4 1466.7,593.3 1467.8,592.6 1469,597 1470.1,595.2 1471.2,591.9 1472.3,588.6 1473.4,586.8 1474.5,580.9 1475.6,589 1476.7,591.5 1477.9,588.3 1479,586.6 1480.1,588 1481.2,591.5 1482.3,588.4 1483.4,588.1 1484.5,592.1"/>
<path d="M914.5 585.9L926.9 586.6 936.8 587.5 944.7 588.7 951.1 590.3 953.9 591.3 956.4 592.4 958.7 593.7 960.8 595 962.7 596.6 964.4 598.3 966 600.3 967.5 602.4 970 607.2 972.2 612.8 974.1 619.6 976 628.1 977.6 637.6 979.1 648.6 984 692.3 985.1 698.7 985.7 700.4 986.3 700.9 986.7 700.5 987.3 699.1 988.4 693.3 992.9 658.4 995.3 642.6 997.6 630.5 1000 620.6 1001.5 615.6 1003.1 611.1 1004.7 607.4 1006.5 604 1008.4 601.2 1010.6 598.7 1012.9 596.6 1015.5 594.8 1018.2 593.4 1021 592.3 1024.2 591.4 1027.8 590.7 1031.6 590.1 1035.9 589.8 1040.3 589.7 1044.7 589.8 1048.6 590.1 1052.1 590.6 1055.3 591.3 1058.3 592.2 1060.9 593.2 1063.3 594.5 1065.4 595.9 1067.3 597.6 1069.9 600.8 1072.3 604.8 1074.4 609.6 1076.2 615.3 1077.8 621.7 1079.4 629.7 1084.5 660.5 1085.6 664.8 1086.2 665.9 1086.7 666.2 1087.2 665.9 1087.8 664.9 1088.9 660.8 1094.4 631.2 1096.3 622.7 1098.3 615.7 1100.5 609.5 1102.7 604.6 1105.3 600.7 1108.1 597.5 1110.3 595.7 1112.6 594.3 1115.1 593.1 1118 592.1 1121.2 591.3 1124.8 590.7 1128.7 590.3 1132.9 590.1 1137.4 590.2 1141.8 590.5 1146 591 1149.8 591.8 1153.2 592.7 1156.2 593.8 1159 595.2 1161.5 596.8 1164.7 599.6 1167.4 603.1 1169.9 607.2 1172 612.3 1173.7 617.5 1175.3 623.5 1179.9 644.8 1181.4 650.8 1183 655.3 1185.6 660.1 1186.7 662.4 1187.7 665.6 1188.6 669.4 1189.6 675.3 1190.5 681.9 1192.4 699.7 1194 720.3 1197.2 767 1198.7 783.8 1199.5 790 1200.3 793.9 1201.2 796.2 1201.9 797.1 1202.4 797.4 1202.8 797.2 1203.1 796.7 1203.7 795 1204.3 792.2 1204.9 787.5 1206.1 776.8 1208.8 746.7 1210.2 735 1210.9 730.9 1211.5 728.4 1212 726.9 1212.6 726.4 1212.9 726.5 1213.3 727 1214 729 1214.7 732.4 1215.3 736.9 1216.7 749.3 1219.6 780 1220.9 790.5 1221.7 793.9 1222.1 794.7 1222.5 795.3 1223 795.2 1223.5 794.7 1224.1 793.5 1224.6 792.4 1225.3 789.6 1226 785.3 1227.3 771.8 1228.6 754.6 1231.9 703.6 1234.1 676.6 1235.1 666.6 1236.3 657.5 1237.4 650.2 1238.6 644.5 1239.7 640.2 1240.8 637.2 1242 635.2 1243.2 634 1244.4 633.8 1245.5 634.4 1246.6 635.3 1248.7 637.8 1249.8 638.5 1250.3 638.7 1250.8 638.5 1251.8 637.5 1252.6 635.9 1253.5 633.3 1258.2 616.1 1259.7 611.6 1261.2 607.8 1263 604.1 1265 601.1 1267.2 598.4 1269.8 596.2 1272.2 594.7 1274.8 593.4 1277.8 592.3 1281.2 591.3 1285.1 590.6 1289.3 590.1 1293.8 589.8 1298.5 589.7 1302.8 589.9 1306.9 590.3 1310.7 590.8 1314 591.6 1317 592.6 1319.6 593.7 1322 595.2 1324.2 596.8 1325.9 598.5 1327.6 600.5 1329.2 602.8 1330.7 605.2 1334 611.9 1337.1 619.7 1339 625.9 1340.7 632.8 1345.9 659.6 1346.9 663 1347.5 664 1347.9 664.2 1348.5 663.7 1349.1 662.5 1350.2 658 1355 629.2 1356.4 622.4 1357.9 616.3 1359.5 611.1 1361.3 606.5 1363.4 602.6 1365.7 599.4 1367.3 597.7 1369 596.3 1370.9 595 1373 593.9 1375.3 593 1377.8 592.3 1380.5 591.7 1383.5 591.4 1386.8 591.2 1390.1 591.2 1393.4 591.5 1396.5 591.9 1399.4 592.5 1402 593.4 1404.4 594.4 1406.7 595.6 1409.3 597.5 1411.7 599.8 1413.9 602.5 1416 605.8 1417.9 609.7 1419.8 614.4 1421.8 619.9 1423.9 626.5 1426.4 636.1 1428.4 646.3 1430.5 659.7 1434.5 691.1 1435.6 696.9 1436.2 698.4 1436.7 698.9 1436.9 698.8 1437.2 698.3 1437.8 696.7 1438.9 690.3 1443.6 649.2 1444.9 639.7 1446.3 631 1447.7 623.4 1449.2 617.2 1450.8 612 1452.7 607.3 1454.9 602.9 1457.6 599.2 1460.7 596.1 1464.2 593.6 1468.3 591.5 1473.1 589.9 1478.9 588.6 1485.9 587.6" fill="none" stroke="#808080" stroke-width="8.0" stroke-linejoin="round"/>
<path d="M914.5 579.8L1065.4 580 1101.1 580.4 1124.9 581 1134.4 581.5 1142.4 582.1 1149 582.8 1154.8 583.7 1159.6 584.8 1163.8 586.2 1167.4 587.8 1170.7 589.8 1173.6 592.3 1176.3 595.3 1178.5 598.8 1180.6 602.9 1182.4 607.7 1184.1 613.5 1185.7 620.5 1187.1 628 1188.4 636.5 1189.5 645.8 1191.7 668.7 1193.5 693.7 1197.1 749.6 1198.5 768.2 1199.3 775.2 1200.3 780.6 1201.3 783.6 1202 784.8 1202.5 785.2 1202.9 785 1203.2 784.5 1203.8 782.8 1204.4 780.1 1205.1 775.3 1206.2 764.7 1208.8 736.4 1210.2 724.9 1210.9 720.9 1211.5 718.5 1212 717 1212.6 716.5 1212.9 716.7 1213.3 717.2 1214 719.3 1214.7 722.6 1215.3 727.2 1216.6 738.5 1219.6 770.2 1220.4 776.9 1221.1 781.2 1221.9 784.2 1222.2 784.9 1222.7 785.2 1223.2 784.8 1223.9 783.7 1224.8 781.1 1225.5 777.7 1226.1 773.6 1227.5 759.2 1231.9 690.6 1233.9 664.8 1235.7 646 1237.8 630.3 1239.1 622.3 1240.7 615 1242.4 608.8 1244.3 603.8 1246.3 599.4 1248.7 595.6 1251.4 592.5 1254.4 589.9 1257.5 588 1261.1 586.3 1265.1 585 1269.8 583.9 1275.1 582.9 1281.4 582.2 1288.8 581.6 1297.8 581.1 1319.8 580.5 1352.5 580.1 1485.9 579.8" fill="none" stroke="#008000" stroke-width="4.4" stroke-linejoin="round"/>
<path d="M914.5 583.4L927.1 584 936.9 584.9 944.8 586 951.2 587.4 956.4 589.3 958.7 590.4 960.8 591.7 962.7 593.2 964.4 594.8 966 596.6 967.5 598.6 970 603.1 972.2 608.5 974.1 614.9 975.9 622.5 977.5 631.4 978.9 641.8 983.9 683.4 985 689.5 985.6 691 986 691.4 986.3 691.3 986.6 690.8 987.2 689.1 988.3 682.8 992.6 646.6 994.7 631 996.8 620 999.1 611.2 1000.6 606.9 1002.3 603 1004.2 599.6 1006.3 596.8 1008.6 594.4 1011.2 592.4 1014.2 590.7 1017.6 589.3 1020.6 588.4 1023.8 587.7 1027.4 587.1 1031.3 586.7 1040 586.4 1048.3 586.8 1054.7 587.8 1057.5 588.5 1060 589.3 1062.3 590.3 1064.3 591.5 1066.2 592.8 1067.9 594.3 1070.4 597.3 1072.6 600.9 1074.5 605.2 1076.2 610.3 1077.8 616.4 1079.3 623.4 1084.3 652.4 1085.5 656.4 1086.1 657.4 1086.5 657.6 1087.1 657.1 1087.7 655.8 1088.8 651.4 1092.9 627.1 1095 616.8 1096.8 609.9 1098.7 604.3 1100.1 601.2 1101.6 598.5 1103.2 596.2 1105 594.1 1107 592.3 1109.2 590.8 1111.6 589.5 1114.3 588.4 1119.3 587 1125.3 586.1 1132.5 585.5 1140.5 585.3 1147.8 585.5 1154 586.2 1159 587.2 1163 588.6 1165.5 590 1167.8 591.8 1169.9 594 1171.7 596.7 1173.3 599.7 1174.8 603.1 1179.7 617.1 1180.8 619.1 1181.4 619.6 1181.9 619.8 1182.4 619.6 1183 619.1 1184.1 617 1188.7 603.9 1190 600.9 1191.3 598.1 1192.7 595.8 1194.2 593.8 1195.8 592.1 1197.6 590.6 1200.1 589.1 1203 588 1206.3 587.1 1210.2 586.5 1214.8 586.2 1219.5 586.2 1223.9 586.6 1227.8 587.3 1231.7 588.4 1235 590.1 1237.8 592.2 1240.2 595 1242.1 598.1 1243.9 602 1249.4 617.3 1250.6 619.2 1251.1 619.7 1251.6 619.8 1252 619.6 1252.6 619.1 1253.8 617 1258.2 604.2 1260.7 598.5 1262 596.3 1263.4 594.3 1264.8 592.6 1266.4 591.1 1268.5 589.7 1270.9 588.4 1273.5 587.5 1276.6 586.7 1280.2 586.1 1284.2 585.6 1293.9 585.3 1301.2 585.4 1307.9 586 1313.7 586.8 1318.6 588 1322.6 589.4 1326 591.3 1329 593.7 1331.5 596.5 1333.4 599.5 1335.3 603.1 1337 607.6 1338.5 612.6 1339.8 618.3 1341.2 625 1345.9 652.3 1347 656.5 1347.6 657.5 1348.1 657.7 1348.5 657.5 1349.1 656.4 1350.2 652.3 1355.1 623.9 1356.6 616.9 1358.2 610.8 1360 605.7 1361.9 601.3 1364.1 597.7 1366.6 594.7 1368.4 593.1 1370.5 591.7 1372.6 590.5 1375.2 589.6 1377.9 588.8 1381 588.2 1384.4 587.8 1388 587.6 1391.8 587.6 1395.6 587.8 1399.2 588.3 1402.5 588.9 1405.4 589.7 1408.1 590.8 1410.6 592 1412.8 593.4 1414.8 595.2 1416.8 597.2 1418.5 599.5 1420.1 602.2 1421.6 605.3 1422.9 608.8 1424.2 612.7 1425.3 617 1427.4 626.8 1429.2 638.4 1430.8 650.9 1433.8 677.2 1434.8 684.8 1435.9 689.9 1436.4 691.3 1436.9 691.5 1437.3 691 1437.9 689.4 1439.1 683.2 1443.6 644.2 1444.9 635 1446.3 626.5 1447.7 619.1 1449.2 613.2 1450.8 608.1 1452.7 603.6 1454.9 599.3 1457.6 595.8 1460.5 592.9 1464.1 590.5 1468.2 588.6 1473 587.1 1478.8 585.9 1485.9 584.9" fill="none" stroke="#0000ff" stroke-width="4.4" stroke-linejoin="round"/>
<path d="M914.5 579.9L938.5 580.1 954.1 580.4 964.9 581 972.5 581.8 977.9 582.9 982.3 584.6 985.9 586.7 991.9 591.4 993.2 592.1 994.6 592.4 995.9 592.2 997.2 591.5 1004 586.4 1006.2 585.1 1008.6 584 1011.4 583 1014.6 582.3 1018.4 581.7 1022.8 581.2 1033.9 580.7 1048.9 580.5 1062.3 580.8 1071.8 581.4 1077 582.2 1081.3 583.3 1084.9 584.8 1091 588.1 1092.3 588.5 1093.7 588.7 1095.1 588.5 1096.5 588 1102.1 584.9 1105.1 583.6 1108.4 582.6 1112.1 581.8 1117.6 581.2 1124.6 580.7 1133.8 580.5 1145.4 580.4 1160 580.6 1169.7 581.1 1175.5 581.9 1183.5 584 1186.3 584.4 1189.1 584.1 1195.2 582.4 1199.1 581.7 1203.9 581.1 1209.7 580.8 1220.3 580.8 1228.8 581.3 1233.9 582 1241.8 584.1 1244.6 584.4 1247.4 584.1 1253.2 582.5 1256.6 581.7 1260.5 581.2 1265.2 580.8 1273.2 580.5 1283.8 580.4 1295.7 580.5 1305.3 580.7 1314.9 581.5 1318.6 582 1321.7 582.7 1324.2 583.4 1326.6 584.4 1333.5 588.2 1334.9 588.6 1336.2 588.7 1337.5 588.6 1338.9 588.1 1344.5 585 1347.7 583.6 1351.3 582.6 1355.4 581.8 1361.8 581.2 1370.1 580.8 1380.9 580.7 1390.9 581 1397 581.3 1401.9 581.9 1406 582.6 1409.4 583.5 1412.2 584.6 1414.8 586.1 1422.1 591.6 1423.4 592.2 1424.7 592.4 1426 592.1 1427.4 591.4 1433.1 586.9 1436.4 584.9 1440.1 583.4 1444.3 582.3 1450.5 581.3 1458.6 580.7 1469.8 580.3 1485.9 580.1" fill="none" stroke="#ff0000" stroke-width="4.4" stroke-linejoin="round"/>
</g>
<line x1="130" y1="28.5" x2="130" y2="1086.4" stroke="#000" stroke-width="3" stroke-linecap="butt"/>
<line x1="130" y1="1086.4" x2="685.5" y2="1086.4" stroke="#000" stroke-width="3" stroke-linecap="butt"/>
<line x1="115.4" y1="40" x2="130" y2="40" stroke="#000" stroke-width="3" stroke-linecap="round"/>
<line x1="122.4" y1="66.38" x2="130" y2="66.38" stroke="#000" stroke-width="3" stroke-linecap="round"/>
<line x1="115.4" y1="92.75" x2="130" y2="92.75" stroke="#000" stroke-width="3" stroke-linecap="round"/>
<line x1="122.4" y1="119.12" x2="130" y2="119.12" stroke="#000" stroke-width="3" stroke-linecap="round"/>
<line x1="115.4" y1="145.5" x2="130" y2="145.5" stroke="#000" stroke-width="3" stroke-linecap="round"/>
<line x1="122.4" y1="171.88" x2="130" y2="171.88" stroke="#000" stroke-width="3" stroke-linecap="round"/>
<line x1="115.4" y1="198.25" x2="130" y2="198.25" stroke="#000" stroke-width="3" stroke-linecap="round"/>
<line x1="122.4" y1="224.62" x2="130" y2="224.62" stroke="#000" stroke-width="3" stroke-linecap="round"/>
<line x1="115.4" y1="251" x2="130" y2="251" stroke="#000" stroke-width="3" stroke-linecap="round"/>
<line x1="122.4" y1="277.38" x2="130" y2="277.38" stroke="#000" stroke-width="3" stroke-linecap="round"/>
<line x1="115.4" y1="304" x2="130" y2="304" stroke="#000" stroke-width="3" stroke-linecap="round"/>
<line x1="122.4" y1="330.45" x2="130" y2="330.45" stroke="#000" stroke-width="3" stroke-linecap="round"/>
<line x1="115.4" y1="356.9" x2="130" y2="356.9" stroke="#000" stroke-width="3" stroke-linecap="round"/>
<line x1="122.4" y1="383.35" x2="130" y2="383.35" stroke="#000" stroke-width="3" stroke-linecap="round"/>
<line x1="115.4" y1="409.8" x2="130" y2="409.8" stroke="#000" stroke-width="3" stroke-linecap="round"/>
<line x1="122.4" y1="436.25" x2="130" y2="436.25" stroke="#000" stroke-width="3" stroke-linecap="round"/>
<line x1="115.4" y1="462.7" x2="130" y2="462.7" stroke="#000" stroke-width="3" stroke-linecap="round"/>
<line x1="122.4" y1="489.15" x2="130" y2="489.15" stroke="#000" stroke-width="3" stroke-linecap="round"/>
<line x1="115.4" y1="515.6" x2="130" y2="515.6" stroke="#000" stroke-width="3" stroke-linecap="round"/>
<line x1="122.4" y1="542.05" x2="130" y2="542.05" stroke="#000" stroke-width="3" stroke-linecap="round"/>
<line x1="115.4" y1="576.5" x2="130" y2="576.5" stroke="#000" stroke-width="3" stroke-linecap="round"/>
<line x1="122.4" y1="623.65" x2="130" y2="623.65" stroke="#000" stroke-width="3" stroke-linecap="round"/>
<line x1="115.4" y1="670.8" x2="130" y2="670.8" stroke="#000" stroke-width="3" stroke-linecap="round"/>
<line x1="122.4" y1="717.95" x2="130" y2="717.95" stroke="#000" stroke-width="3" stroke-linecap="round"/>
<line x1="115.4" y1="765.1" x2="130" y2="765.1" stroke="#000" stroke-width="3" stroke-linecap="round"/>
<line x1="122.4" y1="812.25" x2="130" y2="812.25" stroke="#000" stroke-width="3" stroke-linecap="round"/>
<line x1="115.4" y1="842.5" x2="130" y2="842.5" stroke="#000" stroke-width="3" stroke-linecap="round"/>
<line x1="122.4" y1="893.15" x2="130" y2="893.15" stroke="#000" stroke-width="3" stroke-linecap="round"/>
<line x1="115.4" y1="943.8" x2="130" y2="943.8" stroke="#000" stroke-width="3" stroke-linecap="round"/>
<line x1="122.4" y1="994.45" x2="130" y2="994.45" stroke="#000" stroke-width="3" stroke-linecap="round"/>
<line x1="115.4" y1="1045.1" x2="130" y2="1045.1" stroke="#000" stroke-width="3" stroke-linecap="round"/>
<line x1="130" y1="1086.4" x2="130" y2="1101.8" stroke="#000" stroke-width="3" stroke-linecap="round"/>
<line x1="199.31" y1="1086.4" x2="199.31" y2="1094" stroke="#000" stroke-width="3" stroke-linecap="round"/>
<line x1="268.62" y1="1086.4" x2="268.62" y2="1101.8" stroke="#000" stroke-width="3" stroke-linecap="round"/>
<line x1="337.94" y1="1086.4" x2="337.94" y2="1094" stroke="#000" stroke-width="3" stroke-linecap="round"/>
<line x1="407.25" y1="1086.4" x2="407.25" y2="1101.8" stroke="#000" stroke-width="3" stroke-linecap="round"/>
<line x1="476.56" y1="1086.4" x2="476.56" y2="1094" stroke="#000" stroke-width="3" stroke-linecap="round"/>
<line x1="545.88" y1="1086.4" x2="545.88" y2="1101.8" stroke="#000" stroke-width="3" stroke-linecap="round"/>
<line x1="615.19" y1="1086.4" x2="615.19" y2="1094" stroke="#000" stroke-width="3" stroke-linecap="round"/>
<line x1="684.5" y1="1086.4" x2="684.5" y2="1101.8" stroke="#000" stroke-width="3" stroke-linecap="round"/>
<line x1="922.8" y1="28.8" x2="922.8" y2="822" stroke="#000" stroke-width="3" stroke-linecap="butt"/>
<line x1="922.8" y1="822" x2="1478.6" y2="822" stroke="#000" stroke-width="3" stroke-linecap="butt"/>
<line x1="908.2" y1="44" x2="922.8" y2="44" stroke="#000" stroke-width="3" stroke-linecap="round"/>
<line x1="915.2" y1="80.67" x2="922.8" y2="80.67" stroke="#000" stroke-width="3" stroke-linecap="round"/>
<line x1="908.2" y1="117.35" x2="922.8" y2="117.35" stroke="#000" stroke-width="3" stroke-linecap="round"/>
<line x1="915.2" y1="154.03" x2="922.8" y2="154.03" stroke="#000" stroke-width="3" stroke-linecap="round"/>
<line x1="908.2" y1="190.7" x2="922.8" y2="190.7" stroke="#000" stroke-width="3" stroke-linecap="round"/>
<line x1="915.2" y1="227.38" x2="922.8" y2="227.38" stroke="#000" stroke-width="3" stroke-linecap="round"/>
<line x1="908.2" y1="264.05" x2="922.8" y2="264.05" stroke="#000" stroke-width="3" stroke-linecap="round"/>
<line x1="908.2" y1="312.4" x2="922.8" y2="312.4" stroke="#000" stroke-width="3" stroke-linecap="round"/>
<line x1="915.2" y1="359.52" x2="922.8" y2="359.52" stroke="#000" stroke-width="3" stroke-linecap="round"/>
<line x1="908.2" y1="406.65" x2="922.8" y2="406.65" stroke="#000" stroke-width="3" stroke-linecap="round"/>
<line x1="915.2" y1="453.77" x2="922.8" y2="453.77" stroke="#000" stroke-width="3" stroke-linecap="round"/>
<line x1="908.2" y1="500.9" x2="922.8" y2="500.9" stroke="#000" stroke-width="3" stroke-linecap="round"/>
<line x1="915.2" y1="548.02" x2="922.8" y2="548.02" stroke="#000" stroke-width="3" stroke-linecap="round"/>
<line x1="908.2" y1="579.7" x2="922.8" y2="579.7" stroke="#000" stroke-width="3" stroke-linecap="round"/>
<line x1="915.2" y1="634.7" x2="922.8" y2="634.7" stroke="#000" stroke-width="3" stroke-linecap="round"/>
<line x1="908.2" y1="689.7" x2="922.8" y2="689.7" stroke="#000" stroke-width="3" stroke-linecap="round"/>
<line x1="915.2" y1="744.7" x2="922.8" y2="744.7" stroke="#000" stroke-width="3" stroke-linecap="round"/>
<line x1="908.2" y1="799.7" x2="922.8" y2="799.7" stroke="#000" stroke-width="3" stroke-linecap="round"/>
<line x1="922.8" y1="822" x2="922.8" y2="837.4" stroke="#000" stroke-width="3" stroke-linecap="round"/>
<line x1="992.15" y1="822" x2="992.15" y2="829.6" stroke="#000" stroke-width="3" stroke-linecap="round"/>
<line x1="1061.5" y1="822" x2="1061.5" y2="837.4" stroke="#000" stroke-width="3" stroke-linecap="round"/>
<line x1="1130.85" y1="822" x2="1130.85" y2="829.6" stroke="#000" stroke-width="3" stroke-linecap="round"/>
<line x1="1200.2" y1="822" x2="1200.2" y2="837.4" stroke="#000" stroke-width="3" stroke-linecap="round"/>
<line x1="1269.55" y1="822" x2="1269.55" y2="829.6" stroke="#000" stroke-width="3" stroke-linecap="round"/>
<line x1="1338.9" y1="822" x2="1338.9" y2="837.4" stroke="#000" stroke-width="3" stroke-linecap="round"/>
<line x1="1408.25" y1="822" x2="1408.25" y2="829.6" stroke="#000" stroke-width="3" stroke-linecap="round"/>
<line x1="1477.6" y1="822" x2="1477.6" y2="837.4" stroke="#000" stroke-width="3" stroke-linecap="round"/>
<text transform="translate(55.73 50.1) scale(0.9200 1)" font-size="36.1">100</text>
<text transform="translate(71.42 102.85) scale(0.9200 1)" font-size="36.1">95</text>
<text transform="translate(72.33 155.6) scale(0.9200 1)" font-size="36.1">90</text>
<text transform="translate(71.42 208.35) scale(0.9200 1)" font-size="36.1">85</text>
<text transform="translate(72.33 261.1) scale(0.9200 1)" font-size="36.1">80</text>
<text transform="translate(55.73 314.1) scale(0.9200 1)" font-size="36.1">100</text>
<text transform="translate(71.42 367) scale(0.9200 1)" font-size="36.1">95</text>
<text transform="translate(72.33 419.9) scale(0.9200 1)" font-size="36.1">90</text>
<text transform="translate(71.42 472.8) scale(0.9200 1)" font-size="36.1">85</text>
<text transform="translate(72.33 525.7) scale(0.9200 1)" font-size="36.1">80</text>
<text transform="translate(55.73 586.6) scale(0.9200 1)" font-size="36.1">100</text>
<text transform="translate(71.42 680.9) scale(0.9200 1)" font-size="36.1">95</text>
<text transform="translate(72.33 775.2) scale(0.9200 1)" font-size="36.1">90</text>
<text transform="translate(55.73 852.6) scale(0.9200 1)" font-size="36.1">100</text>
<text transform="translate(71.42 953.9) scale(0.9200 1)" font-size="36.1">95</text>
<text transform="translate(72.33 1055.2) scale(0.9200 1)" font-size="36.1">90</text>
<text transform="translate(839.48 54.9) scale(0.9200 1)" font-size="42.9">100</text>
<text transform="translate(857.51 128.25) scale(0.9200 1)" font-size="42.9">95</text>
<text transform="translate(859.21 201.6) scale(0.9200 1)" font-size="42.9">90</text>
<text transform="translate(857.51 274.95) scale(0.9200 1)" font-size="42.9">85</text>
<text transform="translate(839.48 323.3) scale(0.9200 1)" font-size="42.9">100</text>
<text transform="translate(857.51 417.55) scale(0.9200 1)" font-size="42.9">95</text>
<text transform="translate(859.21 511.8) scale(0.9200 1)" font-size="42.9">90</text>
<text transform="translate(839.48 590.6) scale(0.9200 1)" font-size="42.9">100</text>
<text transform="translate(857.51 700.6) scale(0.9200 1)" font-size="42.9">95</text>
<text transform="translate(859.21 810.6) scale(0.9200 1)" font-size="42.9">90</text>
<text transform="translate(103.29 1142) scale(0.9300 1)" font-size="43.1">-10</text>
<text transform="translate(251.99 1142) scale(0.9300 1)" font-size="43.1">-5</text>
<text transform="translate(397.23 1142) scale(0.9300 1)" font-size="43.1">0</text>
<text transform="translate(535.5 1142) scale(0.9300 1)" font-size="43.1">5</text>
<text transform="translate(663.46 1142) scale(0.9300 1)" font-size="43.1">10</text>
<text transform="translate(896.09 877.9) scale(0.9300 1)" font-size="43.1">-10</text>
<text transform="translate(1044.87 877.9) scale(0.9300 1)" font-size="43.1">-5</text>
<text transform="translate(1190.18 877.9) scale(0.9300 1)" font-size="43.1">0</text>
<text transform="translate(1328.53 877.9) scale(0.9300 1)" font-size="43.1">5</text>
<text transform="translate(1456.56 877.9) scale(0.9300 1)" font-size="43.1">10</text>
<text transform="translate(291.76 1200.5) scale(0.9688 1)" font-size="35">Velocity (mm/s)</text>
<text transform="translate(1071.7 923.9) scale(0.9740 1)" font-size="41.1">Velocity (mm/s)</text>
<text transform="translate(32.4 780.83) rotate(-90) scale(1.0011 1)" font-size="41">Relative transmission (%)</text>
<text transform="translate(822.6 623.23) rotate(-90) scale(1.0000 1)" font-size="41">Relative transmission (%)</text>
<text transform="translate(2.38 35.1) scale(0.9972 1)" font-size="40.6">(a)</text>
<text transform="translate(786.29 31.2) scale(0.9801 1)" font-size="41">(b)</text>
<text transform="translate(136.56 251.2) scale(0.9879 1)" font-size="34.3">(GTS)</text>
<text transform="translate(138.58 515.4) scale(0.9738 1)" font-size="34.3">(S300)</text>
<text transform="translate(136.57 781.6) scale(0.9783 1)" font-size="34.3">(S500)</text>
<text transform="translate(136.57 1041) scale(0.9783 1)" font-size="34.3">(S700)</text>
<text transform="translate(933.81 274.8) scale(0.9767 1)" font-size="40.7">(Na300)</text>
<text transform="translate(937.3 541.7) scale(0.9805 1)" font-size="40.7">(Na500)</text>
<text transform="translate(933.81 802.2) scale(0.9767 1)" font-size="40.7">(Na700)</text>
<path d="M511.7 92.5l7.5 7.5 -7.5 7.5 -7.5 -7.5z" fill="none" stroke="#808080" stroke-width="1.1"/>
<line x1="477.9" y1="136.6" x2="545.8" y2="136.6" stroke="#808080" stroke-width="7.5" stroke-linecap="round"/>
<line x1="477.7" y1="174.1" x2="546" y2="174.1" stroke="#008000" stroke-width="3.8" stroke-linecap="round"/>
<line x1="477.2" y1="211" x2="544.7" y2="211" stroke="#0000ff" stroke-width="3.8" stroke-linecap="round"/>
<line x1="477.2" y1="248.6" x2="544.7" y2="248.6" stroke="#ff0000" stroke-width="3.8" stroke-linecap="round"/>
<text transform="translate(552.73 109.8) scale(0.9981 1)" font-size="30.6">data</text>
<text transform="translate(553.78 147.2) scale(0.9725 1)" font-size="30.6">Fitted line</text>
<text transform="translate(553.79 184.4) scale(0.9583 1)" font-size="30.6">Ferr</text>
<text transform="translate(553.8 221.3) scale(0.9529 1)" font-size="30.6">Hem</text>
<text transform="translate(553.8 258.9) scale(0.9484 1)" font-size="30.6">Mag</text>
<path d="M1293.4 93l7.5 7.5 -7.5 7.5 -7.5 -7.5z" fill="none" stroke="#808080" stroke-width="1.1"/>
<line x1="1255.7" y1="141.9" x2="1331.1" y2="141.9" stroke="#808080" stroke-width="7.8" stroke-linecap="round"/>
<line x1="1255.9" y1="184" x2="1330.8" y2="184" stroke="#008000" stroke-width="4.0" stroke-linecap="round"/>
<line x1="1255.9" y1="225.6" x2="1330.8" y2="225.6" stroke="#0000ff" stroke-width="4.0" stroke-linecap="round"/>
<line x1="1255.9" y1="267.2" x2="1330.8" y2="267.2" stroke="#ff0000" stroke-width="4.0" stroke-linecap="round"/>
<text transform="translate(1339.73 112.1) scale(0.9592 1)" font-size="35">data</text>
<text transform="translate(1340.48 153.7) scale(0.9546 1)" font-size="35">Fitted line</text>
<text transform="translate(1340.5 195.3) scale(0.9359 1)" font-size="35">Fer</text>
<text transform="translate(1340.48 236.9) scale(0.9519 1)" font-size="35">Hem</text>
<text transform="translate(1340.48 278.5) scale(0.9572 1)" font-size="35">Mag</text>
</svg></body></html>
